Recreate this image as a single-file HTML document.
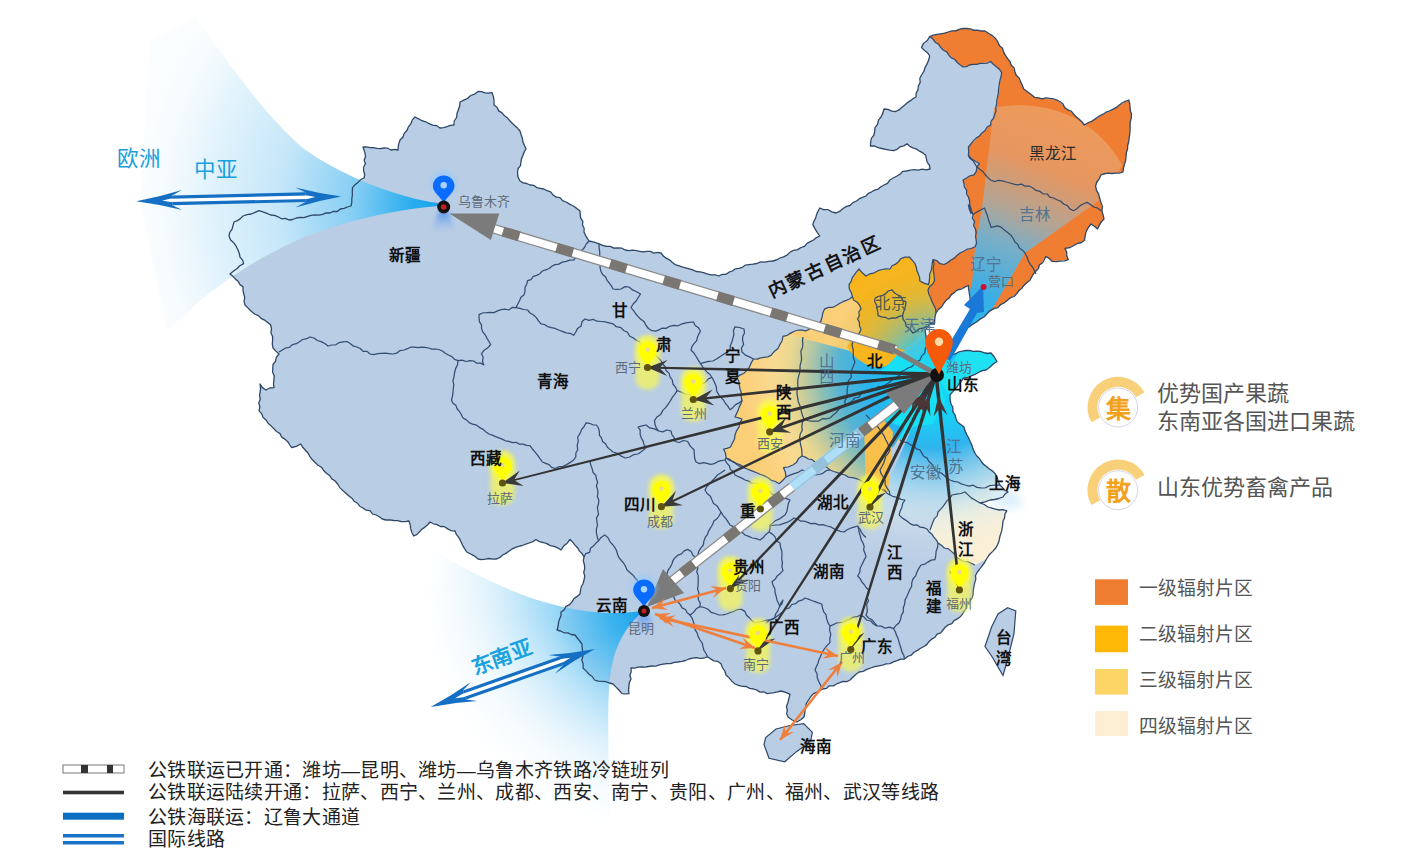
<!DOCTYPE html>
<html lang="zh-CN"><head><meta charset="utf-8">
<style>
html,body{margin:0;padding:0;background:#fff;width:1404px;height:868px;overflow:hidden;font-family:"Liberation Sans",sans-serif;}
svg{position:absolute;left:0;top:0;display:block}
</style></head><body>
<svg width="1404" height="868" viewBox="0 0 1404 868">
<defs>
<linearGradient id="gEU" x1="443" y1="207" x2="150" y2="180" gradientUnits="userSpaceOnUse">
 <stop offset="0" stop-color="#18a6ea" stop-opacity="1"/>
 <stop offset="0.35" stop-color="#3cb4ee" stop-opacity="0.85"/>
 <stop offset="0.7" stop-color="#9ad6f6" stop-opacity="0.5"/>
 <stop offset="1" stop-color="#ffffff" stop-opacity="0"/>
</linearGradient>
<linearGradient id="gSEA" x1="644" y1="612" x2="500" y2="760" gradientUnits="userSpaceOnUse">
 <stop offset="0" stop-color="#18a6ea" stop-opacity="1"/>
 <stop offset="0.4" stop-color="#4bbcef" stop-opacity="0.8"/>
 <stop offset="0.8" stop-color="#bfe6fa" stop-opacity="0.4"/>
 <stop offset="1" stop-color="#ffffff" stop-opacity="0"/>
</linearGradient>
<radialGradient id="gHubW" cx="936" cy="374" r="200" gradientUnits="userSpaceOnUse">
 <stop offset="0" stop-color="#00e0ff" stop-opacity="1"/>
 <stop offset="0.35" stop-color="#1fb4f0" stop-opacity="0.95"/>
 <stop offset="0.7" stop-color="#4ab6e6" stop-opacity="0.45"/>
 <stop offset="1" stop-color="#8fd0ee" stop-opacity="0"/>
</radialGradient>
<radialGradient id="gHubS" cx="936" cy="374" r="230" gradientUnits="userSpaceOnUse">
 <stop offset="0" stop-color="#10c8f8" stop-opacity="1"/>
 <stop offset="0.4" stop-color="#30b0ec" stop-opacity="0.85"/>
 <stop offset="0.75" stop-color="#9fd6f0" stop-opacity="0.45"/>
 <stop offset="1" stop-color="#e8f4fa" stop-opacity="0"/>
</radialGradient>
<radialGradient id="gHubNE" cx="936" cy="374" r="300" gradientUnits="userSpaceOnUse">
 <stop offset="0" stop-color="#12b0f4" stop-opacity="1"/>
 <stop offset="0.35" stop-color="#3aaee6" stop-opacity="0.9"/>
 <stop offset="0.6" stop-color="#8fb0c0" stop-opacity="0.55"/>
 <stop offset="0.85" stop-color="#f0c0a0" stop-opacity="0.3"/>
 <stop offset="1" stop-color="#ffffff" stop-opacity="0.15"/>
</radialGradient>
<linearGradient id="gHebei" x1="885" y1="262" x2="930" y2="335" gradientUnits="userSpaceOnUse">
 <stop offset="0" stop-color="#f6b01a"/>
 <stop offset="0.45" stop-color="#d8bc50"/>
 <stop offset="0.75" stop-color="#a8c090"/>
 <stop offset="1" stop-color="#62c4d0"/>
</linearGradient>
<linearGradient id="gYel" x1="760" y1="400" x2="930" y2="390" gradientUnits="userSpaceOnUse">
 <stop offset="0" stop-color="#fbd27a"/>
 <stop offset="0.5" stop-color="#d6d48e"/>
 <stop offset="1" stop-color="#66ccd8"/>
</linearGradient>
<radialGradient id="gPinGlow" cx="0.5" cy="0.5" r="0.5">
 <stop offset="0" stop-color="#ffff40" stop-opacity="0.9"/>
 <stop offset="0.6" stop-color="#ffff60" stop-opacity="0.5"/>
 <stop offset="1" stop-color="#ffff80" stop-opacity="0"/>
</radialGradient>
<linearGradient id="gRefl" x1="0" y1="0" x2="0" y2="1">
 <stop offset="0" stop-color="#2a7cf0" stop-opacity="0.9"/>
 <stop offset="1" stop-color="#8ab8f0" stop-opacity="0"/>
</linearGradient>
<filter id="blur2" x="-50%" y="-50%" width="200%" height="200%"><feGaussianBlur stdDeviation="2"/></filter>
<filter id="blur4" x="-50%" y="-50%" width="200%" height="200%"><feGaussianBlur stdDeviation="4"/></filter>
<filter id="blur8" x="-50%" y="-50%" width="200%" height="200%"><feGaussianBlur stdDeviation="8"/></filter>
<clipPath id="clipChina"><path d="M363.0,147.0 L398.0,150.0 L400.0,140.0 L415.0,117.0 L440.0,128.0 L454.0,125.0 L460.0,102.0 L478.0,91.5 L492.0,92.7 L494.0,105.0 L510.0,121.0 L520.0,131.0 L526.0,149.0 L517.5,172.0 L520.0,181.0 L547.0,190.6 L566.0,202.0 L580.0,211.0 L584.0,232.0 L589.0,241.0 L599.0,243.8 L629.0,250.7 L661.0,253.0 L675.0,264.6 L707.0,273.8 L719.0,276.0 L749.0,264.6 L776.5,260.0 L801.0,247.5 L819.7,236.0 L812.8,224.4 L819.7,208.0 L836.0,213.0 L856.6,201.0 L884.0,185.0 L902.7,171.4 L930.0,169.0 L925.7,155.3 L907.0,143.8 L893.5,150.7 L870.4,146.0 L875.0,127.6 L884.0,109.0 L895.8,111.5 L916.0,97.0 L921.5,75.0 L929.7,56.0 L921.5,47.6 L929.7,36.6 L940.8,33.8 L963.0,28.3 L985.0,31.0 L996.0,39.0 L1010.0,61.5 L1023.7,89.0 L1034.8,97.4 L1057.0,100.0 L1073.5,114.0 L1084.5,125.0 L1109.4,111.0 L1128.8,100.0 L1131.5,114.0 L1128.8,141.6 L1123.0,172.0 L1101.0,174.8 L1095.6,186.0 L1101.0,202.4 L1104.0,219.0 L1097.4,229.0 L1091.0,224.0 L1086.0,232.0 L1084.5,240.3 L1074.8,245.0 L1065.0,248.4 L1068.4,259.7 L1052.0,261.3 L1045.8,256.5 L1036.0,271.0 L1029.7,280.6 L1016.8,293.5 L1004.0,303.0 L987.7,313.0 L979.7,319.4 L968.4,327.4 L972.0,310.0 L968.4,285.5 L957.0,290.0 L944.0,303.0 L936.0,313.0 L934.5,324.0 L930.5,323.0 L925.0,331.0 L928.0,345.0 L947.0,356.0 L966.0,350.5 L991.0,353.0 L997.0,361.5 L986.0,370.0 L963.6,378.0 L950.0,394.7 L951.0,404.0 L957.4,422.0 L964.0,427.0 L970.0,441.0 L976.8,456.0 L986.5,466.5 L995.3,474.0 L1000.0,485.0 L1008.0,492.0 L1003.0,497.0 L990.0,500.0 L980.0,503.0 L988.0,507.0 L1006.8,510.8 L1003.0,521.0 L1001.7,531.0 L999.0,541.0 L992.8,551.4 L986.5,559.0 L975.5,575.5 L972.0,598.0 L962.6,614.0 L943.0,630.0 L924.0,646.5 L904.5,659.0 L878.7,665.8 L859.0,672.0 L850.0,680.0 L836.5,684.0 L822.7,689.0 L813.5,693.6 L806.5,703.0 L804.0,717.0 L797.0,722.0 L788.0,717.0 L786.4,706.4 L790.0,694.4 L781.0,691.0 L767.0,693.6 L753.5,689.0 L735.0,684.0 L726.0,675.0 L721.0,663.7 L707.5,656.8 L689.0,659.0 L670.6,663.7 L652.0,666.0 L631.0,668.0 L629.0,693.6 L622.0,693.6 L613.0,684.0 L594.6,680.0 L583.0,668.0 L582.0,644.0 L575.0,635.0 L557.0,630.0 L561.0,612.0 L580.0,594.0 L584.0,580.0 L584.0,557.0 L570.0,539.5 L561.0,550.0 L536.0,539.5 L515.0,547.6 L496.7,559.0 L478.0,559.0 L466.7,552.0 L455.0,531.0 L430.0,522.0 L413.7,536.0 L409.0,521.0 L386.0,520.0 L363.0,508.0 L349.0,496.0 L337.6,484.0 L323.7,470.5 L310.0,456.7 L300.7,444.0 L291.5,447.5 L280.0,433.6 L266.0,420.0 L259.0,410.6 L260.0,384.0 L266.0,390.0 L274.0,387.6 L273.0,364.5 L279.0,354.0 L273.0,348.0 L270.7,325.0 L254.6,314.0 L245.0,305.0 L243.0,286.7 L230.0,274.0 L243.6,263.6 L238.0,250.0 L229.0,236.0 L234.0,222.0 L243.0,216.0 L259.0,210.6 L270.7,215.0 L289.0,220.0 L330.0,213.0 L351.0,206.0 L352.5,187.6 L364.0,178.0 L365.0,153.0 Z"/></clipPath>
</defs>
<path d="M363.0,147.0 L398.0,150.0 L400.0,140.0 L415.0,117.0 L440.0,128.0 L454.0,125.0 L460.0,102.0 L478.0,91.5 L492.0,92.7 L494.0,105.0 L510.0,121.0 L520.0,131.0 L526.0,149.0 L517.5,172.0 L520.0,181.0 L547.0,190.6 L566.0,202.0 L580.0,211.0 L584.0,232.0 L589.0,241.0 L599.0,243.8 L629.0,250.7 L661.0,253.0 L675.0,264.6 L707.0,273.8 L719.0,276.0 L749.0,264.6 L776.5,260.0 L801.0,247.5 L819.7,236.0 L812.8,224.4 L819.7,208.0 L836.0,213.0 L856.6,201.0 L884.0,185.0 L902.7,171.4 L930.0,169.0 L925.7,155.3 L907.0,143.8 L893.5,150.7 L870.4,146.0 L875.0,127.6 L884.0,109.0 L895.8,111.5 L916.0,97.0 L921.5,75.0 L929.7,56.0 L921.5,47.6 L929.7,36.6 L940.8,33.8 L963.0,28.3 L985.0,31.0 L996.0,39.0 L1010.0,61.5 L1023.7,89.0 L1034.8,97.4 L1057.0,100.0 L1073.5,114.0 L1084.5,125.0 L1109.4,111.0 L1128.8,100.0 L1131.5,114.0 L1128.8,141.6 L1123.0,172.0 L1101.0,174.8 L1095.6,186.0 L1101.0,202.4 L1104.0,219.0 L1097.4,229.0 L1091.0,224.0 L1086.0,232.0 L1084.5,240.3 L1074.8,245.0 L1065.0,248.4 L1068.4,259.7 L1052.0,261.3 L1045.8,256.5 L1036.0,271.0 L1029.7,280.6 L1016.8,293.5 L1004.0,303.0 L987.7,313.0 L979.7,319.4 L968.4,327.4 L972.0,310.0 L968.4,285.5 L957.0,290.0 L944.0,303.0 L936.0,313.0 L934.5,324.0 L930.5,323.0 L925.0,331.0 L928.0,345.0 L947.0,356.0 L966.0,350.5 L991.0,353.0 L997.0,361.5 L986.0,370.0 L963.6,378.0 L950.0,394.7 L951.0,404.0 L957.4,422.0 L964.0,427.0 L970.0,441.0 L976.8,456.0 L986.5,466.5 L995.3,474.0 L1000.0,485.0 L1008.0,492.0 L1003.0,497.0 L990.0,500.0 L980.0,503.0 L988.0,507.0 L1006.8,510.8 L1003.0,521.0 L1001.7,531.0 L999.0,541.0 L992.8,551.4 L986.5,559.0 L975.5,575.5 L972.0,598.0 L962.6,614.0 L943.0,630.0 L924.0,646.5 L904.5,659.0 L878.7,665.8 L859.0,672.0 L850.0,680.0 L836.5,684.0 L822.7,689.0 L813.5,693.6 L806.5,703.0 L804.0,717.0 L797.0,722.0 L788.0,717.0 L786.4,706.4 L790.0,694.4 L781.0,691.0 L767.0,693.6 L753.5,689.0 L735.0,684.0 L726.0,675.0 L721.0,663.7 L707.5,656.8 L689.0,659.0 L670.6,663.7 L652.0,666.0 L631.0,668.0 L629.0,693.6 L622.0,693.6 L613.0,684.0 L594.6,680.0 L583.0,668.0 L582.0,644.0 L575.0,635.0 L557.0,630.0 L561.0,612.0 L580.0,594.0 L584.0,580.0 L584.0,557.0 L570.0,539.5 L561.0,550.0 L536.0,539.5 L515.0,547.6 L496.7,559.0 L478.0,559.0 L466.7,552.0 L455.0,531.0 L430.0,522.0 L413.7,536.0 L409.0,521.0 L386.0,520.0 L363.0,508.0 L349.0,496.0 L337.6,484.0 L323.7,470.5 L310.0,456.7 L300.7,444.0 L291.5,447.5 L280.0,433.6 L266.0,420.0 L259.0,410.6 L260.0,384.0 L266.0,390.0 L274.0,387.6 L273.0,364.5 L279.0,354.0 L273.0,348.0 L270.7,325.0 L254.6,314.0 L245.0,305.0 L243.0,286.7 L230.0,274.0 L243.6,263.6 L238.0,250.0 L229.0,236.0 L234.0,222.0 L243.0,216.0 L259.0,210.6 L270.7,215.0 L289.0,220.0 L330.0,213.0 L351.0,206.0 L352.5,187.6 L364.0,178.0 L365.0,153.0 Z" fill="#b9cde5"/>
<path d="M776.0,729.0 L790.0,725.5 L803.7,723.7 L812.4,732.4 L810.6,741.0 L803.0,747.0 L796.8,751.4 L784.7,761.8 L769.0,758.3 L764.0,744.5 L765.7,737.6 Z" fill="#b9cde5"/>
<path d="M1007.7,607.7 L1015.8,611.0 L1014.0,633.5 L1007.7,659.0 L1003.0,675.5 L991.6,656.0 L985.0,646.5 L991.6,627.0 L998.0,614.0 Z" fill="#b9cde5"/>
<g clip-path="url(#clipChina)">
<path d="M929.7,36.6 L940.8,47.6 L963.0,67.0 L990.6,61.5 L1001.6,72.5 L996.0,111.0 L990.6,125.0 L979.5,136.0 L968.4,147.0 L968.4,155.4 L979.5,163.7 L974.0,174.8 L963.0,180.0 L968.4,197.0 L971.0,213.5 L973.0,214.5 L976.5,243.5 L975.0,246.8 L960.0,253.0 L944.0,264.5 L933.0,259.7 L934.5,280.6 L928.0,290.0 L936.0,313.0 L1000.0,330.0 L1200.0,260.0 L1200.0,0.0 L930.0,0.0 Z" fill="#ef7e33"/>
<path d="M753.5,359.0 L771.0,355.4 L778.0,348.5 L783.0,336.4 L795.0,331.0 L809.0,329.5 L821.0,321.0 L824.7,308.8 L836.8,305.3 L852.4,296.7 L849.0,284.6 L859.0,269.0 L866.0,276.0 L878.0,270.7 L890.0,269.0 L900.8,258.6 L909.4,257.0 L916.3,267.3 L919.8,281.0 L928.4,284.6 L933.0,259.7 L934.5,280.6 L928.0,290.0 L936.0,313.0 L930.5,323.0 L925.0,331.0 L928.0,345.0 L947.0,356.0 L966.0,350.5 L991.0,353.0 L997.0,361.5 L986.0,370.0 L963.6,378.0 L950.0,394.7 L951.0,404.0 L940.0,415.0 L920.0,425.0 L900.0,440.0 L890.0,450.0 L880.0,470.0 L890.0,495.0 L875.0,485.0 L860.0,480.0 L845.0,475.0 L830.0,470.0 L815.0,462.0 L802.0,456.0 L792.7,465.0 L783.5,467.6 L786.0,476.8 L779.0,483.7 L760.5,474.5 L744.0,467.6 L726.0,458.0 L723.6,449.0 L730.5,447.0 L735.0,435.0 L742.0,419.0 L735.0,417.0 L742.0,400.5 L737.0,377.5 L749.0,368.0 Z" fill="#fbcf78"/>
<path d="M849.0,284.6 L859.0,269.0 L866.0,276.0 L878.0,270.7 L890.0,269.0 L900.8,258.6 L909.4,257.0 L916.3,267.3 L919.8,281.0 L928.4,284.6 L933.0,259.7 L934.5,280.6 L928.0,290.0 L936.0,313.0 L930.5,323.0 L925.0,331.0 L905.0,350.0 L899.0,353.7 L892.0,360.6 L878.0,367.5 L861.0,362.0 L847.0,346.8 L852.0,345.0 L861.0,329.5 L857.5,319.0 L861.0,308.8 L852.4,296.7 Z" fill="#f7b41c"/>
<path d="M928.0,345.0 L947.0,356.0 L966.0,350.5 L991.0,353.0 L997.0,361.5 L986.0,370.0 L963.6,378.0 L950.0,394.7 L951.0,404.0 L940.0,415.0 L920.0,425.0 L900.0,440.0 L880.0,430.0 L866.0,415.0 L885.0,385.0 L905.0,370.0 Z" fill="#1ee2f2"/>
<path d="M951.0,404.0 L957.4,422.0 L964.0,427.0 L970.0,441.0 L976.8,456.0 L986.5,466.5 L995.3,474.0 L1000.0,485.0 L1008.0,492.0 L1003.0,497.0 L990.0,500.0 L980.0,503.0 L988.0,507.0 L1006.8,510.8 L1003.0,521.0 L1001.7,531.0 L999.0,541.0 L992.8,551.4 L986.5,559.0 L975.0,565.0 L960.0,559.6 L954.5,554.0 L938.0,543.0 L930.0,530.0 L938.0,512.0 L952.0,495.0 L958.0,470.0 L950.0,440.0 L942.0,415.0 Z" fill="#fbefd4"/>
</g>
<radialGradient id="gEU2" cx="443" cy="206" r="300" gradientUnits="userSpaceOnUse">
 <stop offset="0" stop-color="#12a0ea"/>
 <stop offset="0.1" stop-color="#28acee"/>
 <stop offset="0.3" stop-color="#86cef4"/>
 <stop offset="0.55" stop-color="#c6e7f9"/>
 <stop offset="0.8" stop-color="#e4f4fc"/>
 <stop offset="1" stop-color="#f6fbfe" stop-opacity="0.5"/>
</radialGradient>
<radialGradient id="gSEA2" cx="644" cy="611" r="230" gradientUnits="userSpaceOnUse">
 <stop offset="0" stop-color="#12a0ea"/>
 <stop offset="0.15" stop-color="#30b0ee"/>
 <stop offset="0.4" stop-color="#8ed2f5"/>
 <stop offset="0.65" stop-color="#cdebfa"/>
 <stop offset="0.85" stop-color="#eaf7fd" stop-opacity="0.8"/>
 <stop offset="1" stop-color="#ffffff" stop-opacity="0"/>
</radialGradient>
<path d="M438,203 C400,198 345,178 304,149 C270,120 240,80 196,17 L150,40 L140,200 L167,332 C200,298 240,266 300,239 C345,220 400,209 438,206 Z" fill="url(#gEU2)"/>
<linearGradient id="gSEAm" x1="614" y1="560" x2="420" y2="760" gradientUnits="userSpaceOnUse"><stop offset="0" stop-color="#fff"/><stop offset="0.3" stop-color="#fff" stop-opacity="0.85"/><stop offset="0.5" stop-color="#fff" stop-opacity="0.55"/><stop offset="0.7" stop-color="#fff" stop-opacity="0.25"/><stop offset="1" stop-color="#fff" stop-opacity="0"/></linearGradient>
<mask id="mSEA" maskUnits="userSpaceOnUse" x="0" y="0" width="1404" height="868"><rect x="0" y="0" width="1404" height="868" fill="url(#gSEAm)"/></mask>
<path d="M640,611 C600,618 545,607 497,584 C470,572 440,555 410,535 L380,640 L440,760 L612,850 C608,760 606,690 612,665 C616,645 625,628 640,614 Z" fill="url(#gSEA2)" mask="url(#mSEA)"/>
<radialGradient id="gW" cx="936" cy="374" r="195" gradientUnits="userSpaceOnUse">
 <stop offset="0" stop-color="#0ae4fa"/>
 <stop offset="0.15" stop-color="#14ccf6"/>
 <stop offset="0.35" stop-color="#28b4f0"/>
 <stop offset="0.5" stop-color="#40b0e0" stop-opacity="0.88"/>
 <stop offset="0.6" stop-color="#58b8d4" stop-opacity="0.65"/>
 <stop offset="0.68" stop-color="#90c8c0" stop-opacity="0.5"/>
 <stop offset="0.76" stop-color="#d8e4b0" stop-opacity="0.42"/>
 <stop offset="0.85" stop-color="#f8f0c4" stop-opacity="0.32"/>
 <stop offset="0.93" stop-color="#fbf0c8" stop-opacity="0.12"/>
 <stop offset="1" stop-color="#ffffff" stop-opacity="0"/>
</radialGradient>
<radialGradient id="gNW" cx="936" cy="374" r="115" gradientUnits="userSpaceOnUse">
 <stop offset="0" stop-color="#10e0f8"/>
 <stop offset="0.3" stop-color="#30c8ec" stop-opacity="0.9"/>
 <stop offset="0.45" stop-color="#60c0c8" stop-opacity="0.65"/>
 <stop offset="0.7" stop-color="#a8c078" stop-opacity="0.3"/>
 <stop offset="0.9" stop-color="#d0b840" stop-opacity="0.08"/>
 <stop offset="1" stop-color="#ffffff" stop-opacity="0"/>
</radialGradient>
<radialGradient id="gS" cx="936" cy="374" r="240" gradientUnits="userSpaceOnUse">
 <stop offset="0" stop-color="#10dcfa"/>
 <stop offset="0.18" stop-color="#18d0f6"/>
 <stop offset="0.31" stop-color="#30b4ee"/>
 <stop offset="0.39" stop-color="#70c4ec" stop-opacity="0.95"/>
 <stop offset="0.49" stop-color="#a8d8f0" stop-opacity="0.85"/>
 <stop offset="0.6" stop-color="#d8ecf0" stop-opacity="0.5"/>
 <stop offset="0.7" stop-color="#e8f0f0" stop-opacity="0.15"/>
 <stop offset="0.8" stop-color="#ffffff" stop-opacity="0"/>
</radialGradient>
<linearGradient id="gNE" x1="946" y1="370" x2="1050" y2="110" gradientUnits="userSpaceOnUse">
 <stop offset="0" stop-color="#14c8f8"/>
 <stop offset="0.3" stop-color="#3aaee6"/>
 <stop offset="0.5" stop-color="#7aaec6"/>
 <stop offset="0.62" stop-color="#b4a494"/>
 <stop offset="0.8" stop-color="#e69660"/>
 <stop offset="1" stop-color="#ee9a5c"/>
</linearGradient>
<g clip-path="url(#clipChina)">
<clipPath id="clipYel"><path d="M753.5,359.0 L771.0,355.4 L778.0,348.5 L783.0,336.4 L795.0,331.0 L809.0,329.5 L821.0,321.0 L824.7,308.8 L836.8,305.3 L852.4,296.7 L849.0,284.6 L859.0,269.0 L866.0,276.0 L878.0,270.7 L890.0,269.0 L900.8,258.6 L909.4,257.0 L916.3,267.3 L919.8,281.0 L928.4,284.6 L933.0,259.7 L934.5,280.6 L928.0,290.0 L936.0,313.0 L930.5,323.0 L925.0,331.0 L928.0,345.0 L947.0,356.0 L966.0,350.5 L991.0,353.0 L997.0,361.5 L986.0,370.0 L963.6,378.0 L950.0,394.7 L951.0,404.0 L940.0,415.0 L920.0,425.0 L900.0,440.0 L890.0,450.0 L880.0,470.0 L890.0,495.0 L875.0,485.0 L860.0,480.0 L845.0,475.0 L830.0,470.0 L815.0,462.0 L802.0,456.0 L792.7,465.0 L783.5,467.6 L786.0,476.8 L779.0,483.7 L760.5,474.5 L744.0,467.6 L726.0,458.0 L723.6,449.0 L730.5,447.0 L735.0,435.0 L742.0,419.0 L735.0,417.0 L742.0,400.5 L737.0,377.5 L749.0,368.0 Z"/><path d="M849.0,284.6 L859.0,269.0 L866.0,276.0 L878.0,270.7 L890.0,269.0 L900.8,258.6 L909.4,257.0 L916.3,267.3 L919.8,281.0 L928.4,284.6 L933.0,259.7 L934.5,280.6 L928.0,290.0 L936.0,313.0 L930.5,323.0 L925.0,331.0 L905.0,350.0 L899.0,353.7 L892.0,360.6 L878.0,367.5 L861.0,362.0 L847.0,346.8 L852.0,345.0 L861.0,329.5 L857.5,319.0 L861.0,308.8 L852.4,296.7 Z"/><path d="M928.0,345.0 L947.0,356.0 L966.0,350.5 L991.0,353.0 L997.0,361.5 L986.0,370.0 L963.6,378.0 L950.0,394.7 L951.0,404.0 L940.0,415.0 L920.0,425.0 L900.0,440.0 L880.0,430.0 L866.0,415.0 L885.0,385.0 L905.0,370.0 Z"/></clipPath>
<g clip-path="url(#clipYel)">
<path d="M936,374 L838.5,542.9 A195,195 0 0 1 747.6,323.5 Z" fill="url(#gW)"/>
<path d="M936,374 L824.9,344.2 A115,115 0 0 1 940.0,259.1 Z" fill="url(#gNW)"/>
</g>
<path d="M936,374 L1063.2,577.5 A240,240 0 0 1 838.4,593.3 Z" fill="url(#gS)"/>
<path d="M946,370 L960,322 L972,284 L975,248 L982,208 L994,108 C1040,98 1095,115 1122,165 L1104,197 L1025,253 L1008,282 L994,306 Z" fill="url(#gNE)"/>
<path d="M864,425 L884,420 L893,432 L890,470 L888,492 L866,492 Z" fill="#f8bf4a"/>
<path d="M847,346.8 L852,338 L880,345 L905,350 L899,353.7 C895,362 885,368 878,367.5 C868,367 855,360 847,346.8 Z" fill="#f7b51e"/>
<path d="M936,374 L880,372 L889,364 L898,354 L921,360 Z" fill="#18e0f4"/>
<path d="M936,374 L868,421 L881,419 L905,428 L933,424 L945,400 Z" fill="#18e0f4"/>
</g>
<path d="M990,484 C1008,484 1024,492 1022,506 C1015,512 1005,510 992,505 Z" fill="#d8eefa" opacity="0.8" filter="url(#blur4)"/>
<path d="M279.0,352.0 L282.3,350.0 L285.6,348.0 L289.5,347.3 L292.4,344.6 L296.3,343.7 L299.5,341.8 L302.7,339.5 L306.6,338.7 L310.0,337.0 L314.0,338.0 L317.3,340.5 L321.2,341.6 L324.8,343.5 L328.0,346.0 L331.8,345.0 L335.8,344.8 L339.2,342.6 L343.1,341.9 L347.0,341.5 L350.2,343.5 L353.1,345.9 L356.8,347.0 L360.2,348.5 L363.0,351.3 L367.1,351.4 L370.0,354.0 L373.8,354.7 L377.7,353.6 L381.5,353.3 L385.3,353.2 L389.2,353.6 L393.0,354.0 L396.8,353.2 L400.0,350.6 L403.9,350.0 L407.5,348.7 L411.0,347.0 L414.5,347.1 L418.0,347.7 L421.6,347.1 L425.1,347.4 L428.6,348.0 L432.0,349.2 L435.5,349.0 L439.0,349.5 L442.4,351.0 L445.2,353.3 L448.5,355.0 L451.9,356.6 L454.5,359.3 L458.0,360.6" fill="none" stroke="#2c476c" stroke-width="1.25" stroke-linejoin="round" opacity="0.95"/>
<path d="M458.0,360.6 L462.0,360.1 L466.0,361.5 L470.0,360.6 L473.7,361.0 L476.8,363.2 L480.6,363.1 L483.8,365.0 L482.5,361.3 L483.2,357.3 L481.5,353.7 L484.2,350.2 L487.8,347.8 L490.7,344.5 L488.8,341.3 L486.9,338.1 L485.2,334.8 L482.8,331.9 L481.5,328.4 L481.5,324.8 L479.4,321.6 L479.1,318.1 L479.0,314.6 L482.5,313.0 L486.3,312.7 L490.1,312.3 L493.9,312.6 L497.5,310.9 L501.1,309.6 L504.8,309.2 L508.8,310.0 L512.1,307.4 L516.0,307.6" fill="none" stroke="#2c476c" stroke-width="1.25" stroke-linejoin="round" opacity="0.95"/>
<path d="M516.0,307.6 L517.7,304.3 L519.4,301.0 L520.8,297.6 L523.8,295.1 L525.0,291.5 L524.9,287.7 L526.7,284.3 L527.6,280.7 L531.0,279.6 L533.3,276.4 L536.8,275.4 L539.9,273.7 L542.4,271.0 L545.7,269.8 L549.1,268.5 L551.9,266.3 L555.0,264.6 L558.8,264.1 L562.3,262.1 L566.1,261.3 L569.8,260.2 L573.7,260.0 L576.3,256.8 L579.5,254.2 L581.5,250.6 L584.3,247.7 L586.3,244.0 L589.0,241.0" fill="none" stroke="#2c476c" stroke-width="1.25" stroke-linejoin="round" opacity="0.95"/>
<path d="M599.0,243.8 L599.1,247.8 L599.7,251.7 L599.7,255.7 L600.7,259.6 L599.8,263.6 L600.1,267.6 L601.0,271.5 L602.7,274.6 L605.6,276.9 L607.0,280.3 L609.3,283.0 L611.4,285.8 L613.0,289.0 L617.1,289.4 L621.1,289.0 L624.9,286.6 L629.0,287.0 L632.5,289.9 L636.6,291.8 L640.5,294.0 L638.3,297.5 L636.1,301.0 L633.1,304.0 L631.0,307.6 L633.4,310.4 L635.5,313.5 L637.9,316.4 L640.5,319.0 L643.9,321.4 L645.9,325.2 L648.4,328.5 L652.0,330.7 L655.7,331.1 L659.0,329.8 L662.4,328.1 L666.0,328.4 L669.7,326.3 L673.8,325.4 L678.2,325.8 L682.0,323.8 L685.8,322.8 L689.6,322.3 L693.5,322.0 L695.2,325.5 L698.5,327.8 L700.5,331.0 L698.8,334.1 L697.4,337.4 L696.5,340.9 L694.0,343.6 L692.0,346.5 L691.0,350.0 L693.9,353.0 L696.2,356.5 L698.3,360.1 L700.5,363.6" fill="none" stroke="#2c476c" stroke-width="1.25" stroke-linejoin="round" opacity="0.95"/>
<path d="M700.5,363.6 L704.5,362.4 L708.6,361.4 L712.8,361.0 L716.6,359.0 L719.9,356.7 L723.3,354.5 L726.7,352.4 L730.0,350.0 L730.2,346.0 L731.7,342.3 L732.8,338.5 L733.9,334.7 L733.4,330.5 L735.0,326.8 L739.6,327.5 L744.0,329.0 L744.5,332.9 L742.7,336.6 L742.6,340.5 L743.6,344.4 L741.4,348.1 L742.0,352.0 L745.4,355.1 L749.5,356.9 L753.5,359.0 L751.0,363.4 L749.0,368.0 L746.4,370.9 L743.6,373.5 L740.0,375.1 L737.0,377.5 L738.7,381.1 L739.3,385.0 L740.0,388.9 L741.3,392.6 L741.2,396.7 L742.0,400.5 L739.1,402.9 L735.6,404.6 L733.0,407.4 L730.0,409.7 L728.0,406.4 L725.5,403.5 L723.6,400.2 L721.0,397.3 L718.5,394.4 L716.6,391.0 L716.4,387.3 L715.2,383.9 L713.8,380.7 L712.0,377.5 L710.0,374.5 L707.1,372.2 L704.7,369.5 L702.5,366.6 L700.5,363.6" fill="none" stroke="#2c476c" stroke-width="1.25" stroke-linejoin="round" opacity="0.95"/>
<path d="M516.0,307.6 L519.9,308.4 L523.7,309.5 L527.6,310.0 L530.0,313.0 L533.5,315.0 L536.3,317.6 L538.5,320.9 L541.0,323.8 L544.6,324.5 L547.8,326.7 L551.4,327.6 L555.0,328.4 L558.6,330.0 L562.4,331.3 L566.0,332.8 L570.1,333.3 L573.6,335.3 L575.8,332.0 L577.6,328.4 L581.1,326.0 L582.0,321.8 L585.0,319.0 L588.9,320.3 L593.1,319.4 L596.9,321.2 L601.0,321.5 L605.1,321.9 L609.0,322.8 L613.0,323.8 L616.3,326.7 L620.8,327.6 L624.0,330.7 L627.5,332.3 L629.5,336.0 L633.0,337.7 L636.0,340.0 L639.3,341.6 L640.9,345.3 L643.7,347.4 L647.0,349.0 L650.3,350.7 L652.7,353.5 L655.9,355.4 L658.4,358.0 L661.0,360.6 L662.6,364.0 L665.2,366.8 L666.1,370.5 L669.0,373.1 L670.0,376.8 L672.3,380.0 L672.9,384.0 L675.4,387.1 L677.0,390.6 L674.9,394.1 L672.3,397.4 L670.3,401.0 L668.0,404.4 L665.6,407.6 L662.8,410.4 L660.8,414.4 L656.9,417.0 L654.5,420.7 L655.0,424.5 L656.3,427.9 L658.6,431.0" fill="none" stroke="#2c476c" stroke-width="1.25" stroke-linejoin="round" opacity="0.95"/>
<path d="M458.0,360.6 L457.5,364.8 L455.6,368.6 L454.6,372.7 L454.0,376.8 L452.9,380.6 L453.8,384.6 L453.3,388.5 L453.0,392.3 L452.5,396.2 L451.5,400.0 L453.0,403.3 L456.0,405.6 L457.2,409.0 L459.6,411.7 L461.4,414.8 L463.0,418.0 L466.4,419.9 L469.2,422.6 L472.7,424.2 L476.6,425.2 L479.7,427.6 L483.1,429.4 L486.0,432.0 L489.0,434.0 L492.3,435.2 L495.6,436.6 L498.9,437.9 L502.2,439.1 L505.4,440.8 L509.0,441.3 L512.4,442.6 L516.1,442.3 L519.4,444.1 L523.0,444.1 L526.4,445.4 L530.0,445.6 L532.4,449.0 L535.1,452.1 L537.7,455.3 L540.0,458.6 L542.4,462.0 L545.7,463.3 L549.1,464.6 L551.6,467.4 L555.0,468.5" fill="none" stroke="#2c476c" stroke-width="1.25" stroke-linejoin="round" opacity="0.95"/>
<path d="M555.0,468.5 L558.8,466.7 L563.0,466.4 L566.7,464.6 L570.2,462.4 L573.6,460.0 L575.8,456.9 L575.9,453.0 L577.7,449.8 L577.2,445.5 L578.2,441.3 L577.7,437.0 L580.0,433.6 L581.5,429.7 L584.2,426.5 L586.0,422.8 L589.5,423.3 L592.8,424.8 L596.4,425.0 L598.4,428.0 L599.4,431.4 L599.4,435.2 L601.6,438.1 L602.6,441.5 L605.5,443.8 L607.4,447.2 L610.2,449.6 L613.0,452.0 L617.4,453.4 L621.2,456.1 L625.4,458.0 L629.7,457.0 L633.6,454.7 L638.0,454.0 L642.2,451.1 L646.0,447.7 L644.0,444.5 L643.0,440.9 L641.2,437.7 L640.1,434.1 L640.2,430.1 L638.0,427.0 L642.0,425.8 L646.0,425.0 L649.8,427.9 L654.5,428.9 L658.6,431.0" fill="none" stroke="#2c476c" stroke-width="1.25" stroke-linejoin="round" opacity="0.95"/>
<path d="M658.6,431.0 L662.7,431.9 L666.9,430.0 L671.0,431.0 L671.9,434.7 L674.3,437.8 L675.0,441.5 L679.2,442.5 L683.5,440.5 L687.7,441.5 L690.2,446.1 L694.0,449.8 L694.3,453.9 L694.6,458.0 L696.0,462.0 L699.5,463.6 L703.3,462.6 L706.9,463.4 L710.5,464.3 L714.2,463.6 L717.6,461.7 L721.2,460.6 L725.0,460.0 L726.0,458.0" fill="none" stroke="#2c476c" stroke-width="1.25" stroke-linejoin="round" opacity="0.95"/>
<path d="M742.0,400.5 L740.9,403.9 L739.2,407.1 L738.0,410.5 L736.5,413.7 L735.0,417.0 L738.5,417.8 L742.0,419.0 L740.0,422.9 L738.9,427.2 L736.5,430.9 L735.0,435.0 L734.4,439.3 L732.4,443.1 L730.5,447.0 L727.1,448.3 L723.6,449.0 L725.5,453.3 L726.0,458.0 L729.4,460.3 L733.4,461.5 L736.5,464.3 L740.0,466.5 L744.0,467.6" fill="none" stroke="#2c476c" stroke-width="1.25" stroke-linejoin="round" opacity="0.95"/>
<path d="M677.0,390.6 L681.3,392.1 L685.5,394.1 L690.0,395.0 L693.2,393.2 L694.7,389.7 L697.9,387.9 L700.0,385.0 L703.2,383.5 L706.2,381.5 L708.6,378.7 L712.0,377.5" fill="none" stroke="#2c476c" stroke-width="1.25" stroke-linejoin="round" opacity="0.95"/>
<path d="M726.0,458.0 L729.9,459.4 L733.0,462.1 L737.0,463.5 L740.7,465.1 L744.0,467.6 L747.3,469.0 L750.6,470.3 L753.9,471.7 L757.2,473.0 L760.5,474.5 L764.4,475.9 L768.1,477.7 L771.4,480.4 L775.5,481.5 L779.0,483.7 L782.7,480.5 L786.0,476.8 L785.3,472.0 L783.5,467.6 L788.3,467.0 L792.7,465.0 L796.4,462.6 L798.5,458.6 L802.0,456.0" fill="none" stroke="#2c476c" stroke-width="1.25" stroke-linejoin="round" opacity="0.95"/>
<path d="M802.0,456.0 L801.9,452.3 L801.6,448.6 L800.6,445.0 L800.1,441.3 L799.6,437.6 L800.3,433.8 L802.3,430.4 L801.8,426.3 L802.4,422.6 L804.0,419.0 L802.5,415.6 L801.5,412.0 L800.7,408.4 L799.6,404.8 L798.2,401.4 L797.7,397.7 L797.0,394.0 L797.1,390.4 L798.0,386.9 L797.7,383.2 L797.9,379.6 L798.6,376.1 L799.7,372.6 L800.0,369.0 L800.1,365.4 L801.1,361.9 L801.6,358.4 L801.2,354.8 L800.9,351.1 L802.5,347.7 L802.8,344.2 L802.5,340.5 L803.0,337.0" fill="none" stroke="#2c476c" stroke-width="1.25" stroke-linejoin="round" opacity="0.95"/>
<path d="M753.5,359.0 L757.2,359.1 L760.6,357.9 L764.1,357.4 L767.7,356.9 L771.0,355.4 L774.2,351.6 L778.0,348.5 L779.9,344.6 L782.1,340.7 L783.0,336.4 L787.3,335.3 L791.1,332.9 L795.0,331.0 L798.4,330.0 L802.0,330.1 L805.6,330.9 L809.0,329.5 L811.5,326.7 L814.8,325.0 L818.5,323.9 L821.0,321.0 L822.1,316.9 L822.9,312.7 L824.7,308.8 L828.6,307.3 L833.0,307.3 L836.8,305.3 L839.8,303.3 L843.0,301.7 L846.3,300.4 L849.6,299.0 L852.4,296.7 L851.3,292.7 L849.3,288.9 L849.0,284.6 L851.1,281.6 L852.2,277.9 L854.3,274.8 L856.5,271.8 L859.0,269.0 L862.2,272.8 L866.0,276.0 L869.8,273.8 L874.2,272.8 L878.0,270.7 L881.9,269.5 L885.9,268.8 L890.0,269.0 L892.0,265.7 L895.7,264.1 L898.6,261.7 L900.8,258.6 L905.0,257.2 L909.4,257.0 L912.1,260.1 L914.8,263.3 L916.3,267.3 L916.9,270.8 L918.4,274.1 L919.6,277.4 L919.8,281.0 L924.0,283.1 L928.4,284.6 L929.3,281.1 L929.6,277.5 L929.7,273.8 L931.3,270.4 L931.8,266.8 L932.2,263.2 L933.0,259.7 L936.9,260.7 L940.0,263.7 L944.0,264.5 L947.6,262.8 L950.6,260.2 L954.2,258.4 L956.9,255.4 L960.0,253.0 L963.6,251.2 L967.2,249.2 L971.3,248.5 L975.0,246.8 L976.5,243.5 L976.1,239.9 L975.5,236.3 L976.2,232.5 L975.4,228.9 L973.5,225.5 L974.6,221.7 L972.4,218.2 L973.0,214.5 L971.7,211.1 L969.6,208.2 L968.4,204.8 L969.3,209.3 L971.0,213.5 L971.2,209.2 L969.8,205.2 L969.6,201.0 L968.4,197.0 L966.5,193.9 L966.6,190.1 L964.4,187.0 L964.0,183.4 L963.0,180.0 L966.5,178.0 L970.0,175.8 L974.0,174.8 L976.3,171.3 L976.9,167.0 L979.5,163.7 L975.5,161.3 L971.6,158.8 L968.4,155.4 L968.7,151.2 L968.4,147.0 L970.9,144.0 L973.3,140.9 L976.1,138.1 L979.5,136.0 L981.9,132.9 L985.1,130.5 L987.1,127.1 L990.6,125.0 L991.1,121.2 L993.6,118.1 L994.7,114.5 L996.0,111.0 L995.8,107.4 L996.6,103.9 L996.8,100.4 L997.6,96.9 L998.3,93.5 L998.5,89.9 L999.0,86.4 L999.5,82.9 L1000.2,79.4 L1001.2,76.0 L1001.6,72.5 L999.4,69.2 L996.3,66.8 L993.3,64.3 L990.6,61.5 L987.3,63.2 L983.8,63.5 L980.2,63.3 L976.8,64.4 L973.2,64.3 L969.7,64.8 L966.5,66.7 L963.0,67.0 L960.0,64.8 L957.2,62.5 L954.9,59.5 L951.4,57.9 L948.8,55.2 L946.8,51.9 L943.4,50.2 L940.8,47.6 L938.7,44.2 L935.1,42.2 L932.9,38.9 L929.7,36.6" fill="none" stroke="#2c476c" stroke-width="1.25" stroke-linejoin="round" opacity="0.95"/>
<path d="M933.0,259.7 L934.0,263.8 L933.2,268.1 L933.6,272.3 L934.2,276.4 L934.5,280.6 L932.8,284.1 L929.7,286.5 L928.0,290.0 L928.8,294.0 L930.6,297.7 L932.0,301.5 L933.8,305.2 L935.6,308.8 L936.0,313.0" fill="none" stroke="#2c476c" stroke-width="1.25" stroke-linejoin="round" opacity="0.95"/>
<path d="M852.4,296.7 L853.8,300.3 L857.3,302.3 L859.6,305.2 L861.0,308.8 L858.9,311.9 L859.3,315.8 L857.5,319.0 L859.4,322.3 L859.5,326.1 L861.0,329.5 L859.5,332.8 L856.7,335.3 L856.1,339.1 L853.0,341.4 L852.0,345.0 L853.1,349.2 L853.3,353.5 L853.4,357.9 L855.0,362.0 L853.5,365.7 L851.9,369.4 L851.1,373.4 L851.2,377.6 L848.4,380.9 L848.0,385.0 L847.2,389.0 L847.2,393.1 L846.8,397.1 L844.9,400.9 L845.0,405.0" fill="none" stroke="#2c476c" stroke-width="1.25" stroke-linejoin="round" opacity="0.95"/>
<path d="M804.0,419.0 L807.5,420.5 L811.2,421.2 L815.0,421.0 L818.9,421.0 L822.3,418.7 L826.3,418.9 L830.0,418.0 L832.9,415.3 L836.0,412.8 L838.5,409.6 L841.6,407.1 L845.0,405.0" fill="none" stroke="#2c476c" stroke-width="1.25" stroke-linejoin="round" opacity="0.95"/>
<path d="M845.0,405.0 L848.6,403.2 L852.0,401.2 L854.7,398.0 L858.9,397.2 L861.3,393.7 L865.0,392.0 L868.4,391.2 L871.4,388.9 L875.2,389.0 L878.1,386.7 L881.8,386.6 L885.0,385.0 L888.1,383.2 L891.0,381.1 L893.5,378.5 L896.9,377.0 L899.9,375.1 L901.7,371.5 L905.0,370.0 L908.0,368.0 L911.5,366.8 L914.3,364.4 L916.9,361.9 L920.0,360.0 L921.7,356.1 L924.8,352.9 L925.3,348.4 L928.0,345.0" fill="none" stroke="#2c476c" stroke-width="1.25" stroke-linejoin="round" opacity="0.95"/>
<path d="M874.8,298.4 L878.1,296.5 L882.1,295.7 L885.4,293.9 L888.3,291.0 L892.0,289.8 L894.3,292.8 L897.4,294.8 L901.0,296.4 L902.6,300.2 L906.0,301.9 L905.6,305.5 L904.6,308.9 L903.5,312.3 L902.5,315.7 L899.0,316.4 L895.8,318.1 L892.1,317.8 L888.7,319.0 L885.3,317.3 L881.6,316.8 L878.0,315.7 L877.9,312.1 L877.0,308.7 L876.7,305.2 L874.8,302.0 L874.8,298.4" fill="none" stroke="#2c476c" stroke-width="1.25" stroke-linejoin="round" opacity="0.95"/>
<path d="M902.5,315.7 L903.2,319.3 L905.4,322.4 L906.0,326.0 L909.9,329.1 L912.9,333.0 L916.4,331.4 L919.4,328.7 L923.5,328.2 L926.7,326.0" fill="none" stroke="#2c476c" stroke-width="1.25" stroke-linejoin="round" opacity="0.95"/>
<path d="M590.0,462.0 L591.0,465.5 L592.2,468.9 L593.0,472.4 L595.7,475.2 L596.4,478.8 L597.6,482.3 L596.4,486.0 L597.6,489.4 L597.9,493.0 L597.3,496.6 L598.8,500.1 L598.5,503.7 L597.4,507.2 L597.9,510.8 L598.5,514.4 L596.5,517.9 L596.9,521.5 L597.5,525.1 L596.4,528.6 L596.4,532.8 L597.3,537.0 L598.5,541.0 L595.7,543.3 L593.4,546.1 L590.5,548.3 L589.6,552.3 L585.7,553.7 L584.0,557.0" fill="none" stroke="#2c476c" stroke-width="1.25" stroke-linejoin="round" opacity="0.95"/>
<path d="M598.5,541.0 L601.1,537.4 L604.7,534.9 L608.0,537.8 L610.1,541.8 L613.0,545.0 L615.1,547.9 L616.7,551.0 L617.6,554.5 L619.0,557.7 L621.3,560.5 L623.7,563.2 L625.5,566.3 L626.9,569.7 L629.6,572.2 L632.8,574.9 L635.3,578.2 L638.1,581.2 L640.0,585.0 L643.9,585.8 L647.8,586.7 L650.9,589.7 L655.0,590.0 L657.3,586.4 L661.0,583.9 L662.8,580.0 L663.9,576.5 L667.0,574.0 L668.0,570.4 L670.1,567.4 L671.8,564.2 L672.9,560.7 L675.0,557.7 L677.9,555.2 L681.5,553.9 L684.1,550.9 L687.7,549.4 L691.2,551.5 L692.9,555.3 L696.0,557.7 L697.9,554.5 L698.9,550.8 L701.0,547.8 L703.4,544.8 L703.9,540.9 L705.3,537.4 L707.5,534.4 L708.7,530.8 L710.7,527.7 L712.6,524.5 L713.9,520.9 L717.2,518.5 L719.4,515.5 L721.0,512.0" fill="none" stroke="#2c476c" stroke-width="1.25" stroke-linejoin="round" opacity="0.95"/>
<path d="M725.0,460.0 L726.9,463.1 L729.3,465.8 L730.4,469.4 L733.4,471.8 L735.0,475.0 L738.3,476.7 L741.8,478.1 L745.0,480.0 L748.8,481.1 L752.2,483.4 L756.5,483.0 L760.0,485.0 L763.1,486.9 L766.3,488.5 L769.2,490.7 L771.4,493.8 L775.0,495.0 L778.9,495.9 L782.4,497.7 L786.3,498.6 L790.0,500.0 L788.3,503.6 L787.6,507.5 L786.9,511.5 L785.0,515.0 L782.1,517.1 L779.1,519.2 L775.7,520.5 L772.9,522.9 L770.0,525.0 L770.1,528.6 L769.0,532.0 L765.8,534.4 L763.3,537.6 L760.0,540.0 L756.3,538.7 L752.3,538.0 L748.7,536.4 L745.0,535.0 L742.3,532.5 L739.0,531.0 L736.3,528.6 L733.3,526.6 L730.0,525.0 L727.9,521.7 L725.7,518.3 L723.1,515.4 L721.0,512.0 L718.9,508.9 L716.9,505.7 L713.6,503.5 L712.0,500.0 L710.4,496.2 L707.1,493.5 L705.0,490.0 L706.9,486.5 L709.5,483.6 L712.3,480.8 L715.0,478.0 L717.8,474.7 L721.5,472.5 L725.0,470.0" fill="none" stroke="#2c476c" stroke-width="1.25" stroke-linejoin="round" opacity="0.95"/>
<path d="M696.0,557.7 L696.2,561.2 L697.0,564.7 L697.8,568.1 L696.8,571.7 L698.0,575.1 L698.2,578.6 L698.2,582.1 L698.0,585.7 L697.6,589.2 L698.9,592.6 L698.2,596.2 L698.4,599.7 L700.2,603.1 L700.0,606.6 L704.1,607.5 L707.9,609.3 L711.1,612.3 L715.1,613.5 L719.0,615.0 L723.0,614.9 L726.7,614.0 L730.3,612.5 L734.0,611.3 L737.5,609.5 L741.5,609.4 L744.9,611.4 L746.5,615.3 L749.4,617.8 L751.9,620.7 L755.0,623.0 L759.0,622.1 L763.0,621.2 L766.9,620.1 L771.0,619.5 L774.7,617.7 L775.7,613.8 L778.0,610.6 L779.3,606.9 L781.9,603.8 L783.0,600.0 L780.8,603.0 L780.0,606.6 L778.4,603.2 L776.9,599.7 L776.1,596.1 L775.1,592.5 L774.8,588.6 L773.0,585.3 L772.0,581.7 L775.1,579.3 L777.2,575.9 L780.3,573.4 L783.0,570.6 L781.9,566.7 L782.4,562.7 L781.7,558.8 L782.0,554.8 L781.7,550.8 L780.5,546.9 L780.0,543.0 L776.6,540.9 L775.1,536.9 L772.4,534.1 L769.0,532.0" fill="none" stroke="#2c476c" stroke-width="1.25" stroke-linejoin="round" opacity="0.95"/>
<path d="M662.8,580.0 L665.7,582.8 L667.5,586.3 L669.1,589.9 L670.6,593.5 L673.6,596.3 L675.0,600.0 L678.0,602.0 L680.4,604.6 L682.1,607.9 L685.5,609.5 L687.2,612.8 L690.0,615.0 L693.5,612.4 L696.2,608.8 L700.0,606.6" fill="none" stroke="#2c476c" stroke-width="1.25" stroke-linejoin="round" opacity="0.95"/>
<path d="M690.0,615.0 L692.2,618.3 L693.4,621.9 L694.7,625.6 L695.0,629.6 L697.1,632.9 L698.2,636.6 L700.0,640.0 L702.2,643.0 L703.0,646.7 L703.9,650.4 L706.0,653.5 L707.5,656.8" fill="none" stroke="#2c476c" stroke-width="1.25" stroke-linejoin="round" opacity="0.95"/>
<path d="M786.0,476.8 L790.1,475.2 L794.1,473.6 L798.2,472.3 L802.0,470.0 L806.5,471.3 L810.6,473.6 L815.0,475.0 L819.0,474.5 L822.8,473.3 L826.1,470.7 L830.0,470.0 L833.7,471.5 L837.4,472.7 L841.2,473.8 L845.0,475.0 L848.5,477.1 L852.5,477.6 L856.3,478.6 L860.0,480.0 L863.5,482.1 L867.4,482.8 L871.4,483.4 L875.0,485.0 L878.2,486.7 L881.0,489.0 L884.5,490.3 L886.9,493.2 L890.0,495.0 L893.6,496.7 L897.5,497.4 L901.0,499.4 L905.0,500.0 L902.7,503.4 L901.9,507.5 L900.2,511.1 L899.0,515.0" fill="none" stroke="#2c476c" stroke-width="1.25" stroke-linejoin="round" opacity="0.95"/>
<path d="M769.0,526.0 L772.5,525.5 L776.0,525.0 L779.6,524.9 L783.0,523.6 L787.0,522.4 L790.7,520.5 L794.0,518.0 L797.4,518.9 L800.4,521.1 L804.0,521.2 L807.4,522.1 L810.6,523.6 L814.8,523.4 L818.8,524.8 L823.0,524.7 L827.0,526.0 L830.6,526.8 L833.7,528.6 L837.0,530.1 L840.4,531.3 L844.0,532.0 L847.1,529.7 L850.5,528.2 L854.1,527.1 L857.7,526.0 L859.7,528.9 L861.3,532.1 L863.4,535.0 L866.0,537.5" fill="none" stroke="#2c476c" stroke-width="1.25" stroke-linejoin="round" opacity="0.95"/>
<path d="M857.7,526.0 L858.7,529.4 L859.3,532.9 L860.4,536.3 L861.2,539.8 L863.0,543.0 L864.2,546.4 L863.6,550.1 L865.1,553.4 L866.0,556.8 L863.9,560.4 L862.2,564.3 L860.2,568.0 L859.8,572.3 L857.7,576.0 L860.1,578.6 L861.8,581.9 L864.2,584.5 L866.1,587.5 L868.7,590.0 L868.6,593.6 L867.0,597.0 L868.5,600.8 L866.7,604.2 L867.0,607.9 L867.3,611.5 L866.0,615.0 L868.5,618.0 L872.1,619.9 L874.6,622.9 L877.0,626.0" fill="none" stroke="#2c476c" stroke-width="1.25" stroke-linejoin="round" opacity="0.95"/>
<path d="M766.0,623.0 L769.1,620.4 L773.2,619.1 L776.4,616.7 L779.7,614.3 L782.8,611.8 L785.8,609.0 L789.4,607.8 L791.7,604.5 L795.5,603.7 L798.3,601.2 L802.0,600.2 L805.0,598.0 L808.4,599.1 L811.6,600.5 L815.0,601.7 L818.3,602.9 L821.7,604.0 L822.5,607.9 L823.6,611.7 L826.1,614.9 L826.7,618.9 L827.9,622.6 L830.0,626.0 L833.3,624.7 L836.4,623.0 L840.0,622.6 L843.4,622.0 L846.6,620.4 L850.1,619.1 L853.3,617.1 L857.1,616.7 L860.4,615.0 L863.9,616.9 L866.6,620.0 L870.7,621.0 L873.6,624.0 L877.0,626.0" fill="none" stroke="#2c476c" stroke-width="1.25" stroke-linejoin="round" opacity="0.95"/>
<path d="M830.0,626.0 L829.6,630.1 L830.8,634.3 L829.8,638.5 L830.0,642.6 L826.7,645.9 L823.9,649.5 L821.7,653.6 L820.3,656.9 L818.8,660.1 L817.9,663.5 L816.3,666.7 L815.0,670.0 L817.1,673.7 L817.3,678.0 L818.8,681.8 L820.8,685.5 L821.7,689.6" fill="none" stroke="#2c476c" stroke-width="1.25" stroke-linejoin="round" opacity="0.95"/>
<path d="M899.0,515.0 L902.5,518.1 L906.4,520.6 L910.0,523.6 L913.3,525.1 L917.1,524.9 L920.1,527.2 L923.7,527.7 L927.0,529.0 L929.0,531.9 L931.9,534.2 L933.8,537.2 L936.2,539.9 L938.0,543.0 L937.6,547.2 L936.1,551.2 L935.8,555.5 L935.0,559.6 L931.2,560.1 L927.9,562.1 L924.7,564.2 L921.0,565.0 L918.8,568.4 L917.0,572.0 L915.6,575.9 L913.0,579.0 L911.8,582.6 L911.6,586.5 L909.7,589.8 L908.2,593.3 L906.7,596.7 L905.0,600.1 L904.7,604.0 L903.3,607.7 L903.3,611.9 L901.3,615.4 L900.6,619.3 L899.0,623.0 L895.9,625.5 L893.6,628.7 L889.6,627.2 L885.2,628.2 L881.2,626.1 L877.0,626.0" fill="none" stroke="#2c476c" stroke-width="1.25" stroke-linejoin="round" opacity="0.95"/>
<path d="M893.6,628.7 L895.4,631.7 L896.4,635.1 L898.0,638.3 L898.9,641.7 L900.0,645.0 L901.0,648.5 L902.0,652.1 L903.8,655.3 L904.5,659.0" fill="none" stroke="#2c476c" stroke-width="1.25" stroke-linejoin="round" opacity="0.95"/>
<path d="M938.0,543.0 L941.3,545.1 L944.2,548.0 L948.4,548.8 L951.4,551.4 L954.5,554.0 L956.6,557.4 L960.0,559.6 L963.6,561.3 L967.8,561.6 L971.4,563.4 L975.0,565.0" fill="none" stroke="#2c476c" stroke-width="1.25" stroke-linejoin="round" opacity="0.95"/>
<path d="M930.0,530.0 L931.4,526.3 L932.7,522.6 L934.2,518.9 L937.2,515.9 L938.0,512.0 L940.5,509.3 L943.0,506.6 L945.1,503.6 L947.2,500.5 L950.0,498.1 L952.0,495.0 L956.4,494.1 L960.8,493.5 L965.0,492.0 L968.1,494.9 L971.2,497.9 L975.0,500.0 L980.0,503.0" fill="none" stroke="#2c476c" stroke-width="1.25" stroke-linejoin="round" opacity="0.95"/>
<path d="M900.0,440.0 L903.2,441.9 L907.1,442.5 L910.2,444.6 L913.6,446.2 L916.5,448.8 L920.0,450.0 L921.9,453.1 L923.7,456.2 L927.1,458.1 L928.7,461.3 L931.5,463.7 L933.3,466.8 L935.0,470.0 L938.0,472.0 L941.5,473.2 L944.3,475.5 L946.8,478.2 L950.0,480.0 L953.7,481.3 L957.7,482.0 L961.2,483.9 L965.0,485.0 L968.9,486.2 L973.1,485.2 L976.9,487.4 L980.9,487.8 L985.0,488.0" fill="none" stroke="#2c476c" stroke-width="1.25" stroke-linejoin="round" opacity="0.95"/>
<path d="M985.0,488.0 L989.7,485.6 L995.0,485.0 L1000.0,485.0" fill="none" stroke="#2c476c" stroke-width="1.25" stroke-linejoin="round" opacity="0.95"/>
<path d="M866.0,415.0 L868.9,417.9 L871.5,421.1 L873.9,424.5 L877.7,426.6 L880.0,430.0 L882.2,433.1 L884.2,436.2 L885.7,439.7 L887.5,442.9 L888.9,446.4 L890.0,450.0 L888.3,453.3 L885.8,456.2 L884.7,459.8 L883.6,463.4 L881.8,466.8 L880.0,470.0 L881.1,473.7 L883.2,477.0 L885.1,480.4 L885.1,484.5 L886.9,487.9 L889.3,491.1 L890.0,495.0" fill="none" stroke="#2c476c" stroke-width="1.25" stroke-linejoin="round" opacity="0.95"/>
<path d="M802.0,456.0 L805.4,457.1 L808.5,459.0 L812.1,459.7 L815.0,462.0 L818.9,463.7 L822.9,465.2 L826.7,467.1 L830.0,470.0" fill="none" stroke="#2c476c" stroke-width="1.25" stroke-linejoin="round" opacity="0.95"/>
<path d="M968.4,155.4 L970.0,158.6 L973.0,160.7 L974.9,163.7 L976.7,166.7 L979.5,169.0 L982.7,171.4 L985.0,174.5 L987.7,177.4 L990.6,180.0 L994.3,181.5 L998.5,180.3 L1002.4,180.9 L1006.2,182.0 L1010.0,183.0 L1013.7,184.2 L1017.5,184.9 L1021.5,184.1 L1025.1,186.2 L1029.0,186.0 L1032.6,187.8 L1035.9,190.4 L1040.0,191.4 L1043.0,193.8 L1047.2,194.0 L1049.8,197.2 L1053.6,198.0 L1057.0,199.7 L1060.7,201.3 L1063.6,204.0 L1067.4,205.6 L1069.9,208.9 L1073.5,210.7 L1076.9,208.7 L1079.8,205.9 L1083.3,204.0 L1087.0,202.4 L1090.5,204.5 L1093.7,207.0 L1097.7,208.2 L1101.0,210.7" fill="none" stroke="#2c476c" stroke-width="1.25" stroke-linejoin="round" opacity="0.95"/>
<path d="M973.0,214.5 L976.7,212.1 L980.6,210.0 L984.5,208.0 L985.9,211.9 L987.4,215.7 L988.4,219.6 L989.9,223.5 L991.0,227.4 L997.4,225.8 L1001.1,227.1 L1003.9,229.8 L1007.0,232.0 L1010.4,234.7 L1013.0,238.2 L1015.0,242.0 L1017.8,244.4 L1019.3,248.1 L1022.5,250.2 L1025.0,253.0 L1026.9,256.7 L1028.3,260.7 L1030.3,264.4 L1033.0,267.7 L1036.0,274.0" fill="none" stroke="#2c476c" stroke-width="1.25" stroke-linejoin="round" opacity="0.95"/>
<path d="M363.0,147.0 L366.5,146.8 L370.0,147.7 L373.5,147.7 L377.0,148.4 L380.5,148.7 L384.1,148.0 L387.6,148.2 L390.9,150.0 L394.5,149.3 L398.0,150.0 L398.5,144.9 L400.0,140.0 L402.9,137.2 L404.2,133.4 L406.9,130.5 L408.5,126.8 L410.9,123.7 L412.3,119.9 L415.0,117.0 L418.5,118.8 L421.9,120.7 L425.7,121.8 L429.1,123.7 L432.7,125.1 L436.7,125.7 L440.0,128.0 L443.6,127.7 L447.0,126.7 L450.4,125.4 L454.0,125.0 L454.2,121.0 L456.6,117.5 L457.0,113.5 L458.4,109.8 L459.7,106.0 L460.0,102.0 L463.8,100.2 L467.6,98.5 L470.7,95.5 L474.7,94.1 L478.0,91.5 L481.5,91.7 L484.9,92.9 L488.4,93.1 L492.0,92.7 L493.4,96.7 L494.0,100.8 L494.0,105.0 L497.0,107.3 L498.7,110.9 L502.1,112.9 L504.5,115.8 L507.6,118.1 L510.0,121.0 L512.5,123.5 L515.1,125.9 L517.7,128.3 L520.0,131.0 L521.1,134.6 L522.3,138.2 L522.9,142.0 L524.5,145.5 L526.0,149.0 L524.1,152.0 L523.0,155.3 L521.5,158.6 L520.9,162.0 L520.5,165.6 L518.1,168.5 L517.5,172.0 L517.9,176.7 L520.0,181.0 L523.1,182.9 L526.7,183.5 L530.0,185.0 L533.7,185.3 L536.7,187.6 L540.2,188.3 L543.8,189.0 L547.0,190.6 L550.6,191.8 L553.0,194.9 L556.0,197.1 L560.0,197.6 L562.6,200.6 L566.0,202.0 L569.6,204.1 L573.3,206.0 L576.7,208.4 L580.0,211.0 L580.2,214.6 L580.7,218.1 L582.8,221.3 L582.5,225.0 L584.1,228.3 L584.0,232.0 L586.2,236.7 L589.0,241.0 L594.1,242.1 L599.0,243.8 L602.6,245.3 L606.3,246.4 L610.2,246.4 L613.8,248.1 L617.8,247.8 L621.7,248.2 L625.2,250.0 L629.0,250.7 L632.6,250.1 L636.2,250.7 L639.7,251.3 L643.2,251.9 L646.8,251.4 L650.4,251.4 L653.8,253.1 L657.5,252.4 L661.0,253.0 L663.3,256.0 L666.1,258.2 L669.5,259.8 L672.2,262.2 L675.0,264.6 L678.5,265.7 L682.0,266.9 L685.6,267.8 L689.2,268.8 L692.7,269.9 L696.1,271.5 L699.9,271.8 L703.5,272.7 L707.0,273.8 L710.9,274.9 L715.1,274.8 L719.0,276.0 L722.2,274.4 L726.0,274.3 L729.0,272.2 L732.4,271.0 L735.4,268.8 L738.9,268.3 L742.4,267.3 L745.4,265.1 L749.0,264.6 L753.0,264.1 L756.9,263.5 L760.7,261.8 L764.8,262.2 L768.6,261.3 L772.6,261.0 L776.5,260.0 L779.9,258.0 L783.7,256.8 L787.2,255.0 L790.1,252.1 L793.6,250.4 L797.6,249.6 L801.0,247.5 L804.6,246.3 L807.0,243.3 L810.3,241.7 L813.6,240.0 L816.4,237.6 L819.7,236.0 L817.2,232.3 L814.8,228.4 L812.8,224.4 L814.0,221.0 L815.7,217.9 L816.6,214.4 L818.1,211.2 L819.7,208.0 L823.6,209.7 L828.1,209.7 L831.9,211.9 L836.0,213.0 L839.6,211.4 L842.7,208.7 L846.0,206.6 L850.0,205.5 L852.9,202.6 L856.6,201.0 L859.4,198.7 L862.6,197.3 L865.9,196.0 L868.4,193.3 L871.7,191.8 L874.7,190.1 L878.2,189.1 L880.9,186.7 L884.0,185.0 L887.5,183.3 L889.9,180.0 L893.2,178.0 L896.6,176.2 L900.0,174.2 L902.7,171.4 L906.6,171.0 L910.5,170.2 L914.3,169.7 L918.3,170.1 L922.2,169.1 L926.1,169.9 L930.0,169.0 L929.5,165.4 L927.3,162.3 L926.4,158.8 L925.7,155.3 L922.9,152.9 L919.6,151.2 L916.6,149.1 L913.1,147.9 L909.8,146.3 L907.0,143.8 L903.8,145.9 L900.0,146.8 L897.1,149.3 L893.5,150.7 L889.6,150.2 L885.8,149.3 L881.9,148.5 L878.1,147.7 L874.4,146.0 L870.4,146.0 L870.7,142.2 L871.4,138.4 L873.9,135.2 L874.7,131.4 L875.0,127.6 L877.6,124.3 L878.5,120.1 L881.1,116.8 L882.9,113.1 L884.0,109.0 L888.0,109.3 L891.8,111.1 L895.8,111.5 L899.0,109.9 L901.7,107.6 L904.5,105.3 L907.1,102.9 L910.1,100.9 L912.8,98.7 L916.0,97.0 L916.2,93.1 L918.0,89.7 L918.4,85.9 L920.2,82.5 L919.8,78.5 L921.5,75.0 L923.8,71.5 L925.1,67.5 L927.1,63.9 L928.7,60.1 L929.7,56.0 L927.5,52.7 L924.3,50.3 L921.5,47.6 L923.5,43.4 L927.3,40.5 L929.7,36.6 L933.3,35.1 L937.0,34.4 L940.8,33.8 L944.6,33.2 L948.2,32.0 L951.9,30.9 L955.8,30.9 L959.3,29.4 L963.0,28.3 L966.7,28.5 L970.4,28.8 L973.9,30.3 L977.7,30.1 L981.3,31.1 L985.0,31.0 L988.8,33.5 L992.7,35.9 L996.0,39.0 L997.9,42.2 L999.5,45.7 L1002.5,48.3 L1003.6,52.1 L1005.4,55.5 L1007.5,58.6 L1010.0,61.5 L1011.2,65.2 L1014.2,68.0 L1014.9,71.9 L1016.3,75.5 L1019.3,78.3 L1020.6,81.9 L1022.4,85.4 L1023.7,89.0 L1027.4,91.8 L1031.2,94.5 L1034.8,97.4 L1038.5,97.8 L1042.1,98.8 L1046.0,97.8 L1049.7,98.3 L1053.4,98.9 L1057.0,100.0 L1060.2,101.8 L1063.0,104.1 L1064.7,107.7 L1067.6,109.8 L1071.2,111.1 L1073.5,114.0 L1076.2,116.8 L1079.2,119.3 L1082.0,122.0 L1084.5,125.0 L1087.5,123.0 L1090.9,121.7 L1093.9,119.9 L1096.8,117.8 L1099.8,115.8 L1103.0,114.2 L1106.0,112.2 L1109.4,111.0 L1112.7,109.3 L1116.1,107.7 L1119.0,105.3 L1122.0,103.0 L1125.3,101.3 L1128.8,100.0 L1129.7,103.5 L1130.0,107.0 L1130.3,110.6 L1131.5,114.0 L1131.3,118.0 L1130.2,121.8 L1130.1,125.8 L1130.1,129.8 L1129.8,133.7 L1129.2,137.7 L1128.8,141.6 L1127.7,145.3 L1127.5,149.2 L1126.3,152.9 L1126.0,156.8 L1125.6,160.7 L1124.4,164.4 L1123.4,168.1 L1123.0,172.0 L1119.4,173.2 L1115.7,173.1 L1112.0,173.5 L1108.2,173.2 L1104.6,173.6 L1101.0,174.8 L1099.4,178.6 L1096.8,182.0 L1095.6,186.0 L1096.5,190.3 L1098.7,194.1 L1099.7,198.3 L1101.0,202.4 L1102.4,206.4 L1101.9,210.8 L1103.0,214.9 L1104.0,219.0 L1101.2,221.9 L1099.2,225.4 L1097.4,229.0 L1094.4,226.3 L1091.0,224.0 L1088.1,227.8 L1086.0,232.0 L1085.1,236.1 L1084.5,240.3 L1081.6,242.5 L1078.0,243.3 L1074.8,245.0 L1070.2,247.5 L1065.0,248.4 L1066.7,252.0 L1066.8,256.1 L1068.4,259.7 L1064.4,260.9 L1060.3,261.2 L1056.2,261.6 L1052.0,261.3 L1049.3,258.4 L1045.8,256.5 L1044.3,259.7 L1042.6,262.8 L1039.4,264.9 L1038.5,268.5 L1036.0,271.0 L1033.4,273.9 L1031.5,277.2 L1029.7,280.6 L1026.7,282.8 L1024.0,285.2 L1021.9,288.2 L1019.0,290.5 L1016.8,293.5 L1014.1,296.5 L1010.1,297.9 L1007.2,300.6 L1004.0,303.0 L1000.5,304.7 L997.9,307.6 L994.0,308.6 L990.6,310.3 L987.7,313.0 L984.2,316.8 L979.7,319.4 L976.1,322.3 L972.1,324.6 L968.4,327.4 L969.7,324.0 L969.4,320.3 L970.0,316.8 L970.8,313.4 L972.0,310.0 L971.7,306.5 L971.4,302.9 L970.3,299.5 L969.7,296.0 L969.2,292.5 L968.6,289.0 L968.4,285.5 L964.7,287.1 L961.1,289.2 L957.0,290.0 L954.4,292.6 L951.2,294.6 L949.3,297.9 L946.3,300.1 L944.0,303.0 L941.8,306.7 L938.4,309.5 L936.0,313.0 L935.0,316.6 L934.7,320.3 L934.5,324.0 L930.5,323.0 L927.7,327.0 L925.0,331.0 L925.8,334.5 L926.2,338.1 L926.6,341.6 L928.0,345.0 L931.5,346.3 L934.7,348.0 L937.3,350.9 L940.3,353.0 L943.8,354.2 L947.0,356.0 L950.8,354.8 L954.7,354.2 L958.2,352.2 L962.1,351.2 L966.0,350.5 L969.6,350.3 L973.1,351.4 L976.7,351.2 L980.3,351.4 L983.8,352.6 L987.3,353.5 L991.0,353.0 L994.3,357.0 L997.0,361.5 L993.1,364.0 L989.8,367.3 L986.0,370.0 L982.1,370.7 L978.5,372.5 L974.9,374.4 L971.2,375.8 L967.6,377.5 L963.6,378.0 L961.4,380.8 L959.2,383.7 L957.3,386.7 L954.7,389.3 L952.5,392.1 L950.0,394.7 L950.0,399.4 L951.0,404.0 L952.9,407.4 L952.7,411.5 L954.9,414.8 L956.0,418.5 L957.4,422.0 L960.7,424.5 L964.0,427.0 L964.9,430.7 L966.5,434.2 L968.4,437.5 L970.0,441.0 L971.7,444.7 L973.0,448.7 L974.5,452.5 L976.8,456.0 L979.4,458.5 L981.3,461.5 L983.5,464.4 L986.5,466.5 L989.5,469.0 L992.7,471.1 L995.3,474.0 L997.3,477.5 L998.1,481.5 L1000.0,485.0 L1002.5,487.6 L1004.8,490.3 L1008.0,492.0 L1005.0,494.0 L1003.0,497.0 L998.8,498.5 L994.5,499.5 L990.0,500.0 L985.1,501.9 L980.0,503.0 L984.3,504.5 L988.0,507.0 L991.7,508.1 L995.4,509.2 L999.1,510.0 L1003.1,509.6 L1006.8,510.8 L1004.9,514.0 L1004.6,517.7 L1003.0,521.0 L1002.5,526.0 L1001.7,531.0 L1000.0,535.9 L999.0,541.0 L997.6,544.8 L995.5,548.3 L992.8,551.4 L989.2,554.8 L986.5,559.0 L984.6,562.5 L982.3,565.7 L979.8,568.8 L977.4,572.0 L975.5,575.5 L975.8,579.4 L974.6,583.0 L973.9,586.8 L973.2,590.5 L973.1,594.3 L972.0,598.0 L970.0,601.1 L967.5,604.0 L966.5,607.7 L964.4,610.8 L962.6,614.0 L960.2,616.8 L957.3,618.9 L954.0,620.6 L951.8,623.7 L948.2,624.9 L945.3,627.1 L943.0,630.0 L940.8,632.9 L937.1,634.1 L935.0,637.2 L931.8,639.1 L929.1,641.4 L927.0,644.4 L924.0,646.5 L920.6,648.3 L917.4,650.4 L914.0,652.3 L911.2,655.2 L907.5,656.5 L904.5,659.0 L900.6,659.2 L897.0,660.6 L893.4,661.9 L889.9,663.6 L886.1,663.9 L882.5,665.1 L878.7,665.8 L874.6,666.7 L870.7,668.0 L866.8,669.4 L863.1,671.3 L859.0,672.0 L855.8,674.5 L852.8,677.2 L850.0,680.0 L846.8,681.6 L843.1,681.3 L839.8,682.7 L836.5,684.0 L833.3,685.9 L829.3,685.8 L826.4,688.4 L822.7,689.0 L818.2,691.6 L813.5,693.6 L810.8,696.5 L808.7,699.8 L806.5,703.0 L805.8,706.5 L805.0,710.0 L804.7,713.5 L804.0,717.0 L800.7,719.8 L797.0,722.0 L792.2,720.0 L788.0,717.0 L786.7,713.6 L787.3,709.9 L786.4,706.4 L788.0,702.5 L788.9,698.4 L790.0,694.4 L785.7,692.3 L781.0,691.0 L777.5,691.9 L774.1,692.7 L770.5,693.2 L767.0,693.6 L763.8,691.8 L760.0,692.1 L756.9,690.1 L753.5,689.0 L749.7,688.4 L746.2,686.5 L742.3,686.3 L738.6,685.3 L735.0,684.0 L731.9,681.1 L729.1,677.9 L726.0,675.0 L724.8,671.0 L722.4,667.6 L721.0,663.7 L717.9,661.4 L713.9,660.9 L710.7,658.9 L707.5,656.8 L703.9,658.0 L700.2,658.4 L696.3,657.6 L692.7,658.2 L689.0,659.0 L685.5,660.5 L681.8,661.4 L678.0,662.0 L674.2,662.3 L670.6,663.7 L666.8,663.6 L663.1,664.2 L659.4,664.9 L655.8,666.2 L652.0,666.0 L648.5,666.5 L645.1,667.2 L641.5,667.0 L638.0,667.2 L634.6,668.2 L631.0,668.0 L631.2,671.7 L629.9,675.3 L631.0,679.0 L629.3,682.6 L628.9,686.2 L628.5,689.9 L629.0,693.6 L625.5,693.8 L622.0,693.6 L619.1,690.3 L616.1,687.1 L613.0,684.0 L609.4,683.0 L605.8,681.6 L602.0,681.3 L598.2,681.2 L594.6,680.0 L592.2,676.5 L588.8,674.0 L586.0,670.9 L583.0,668.0 L583.2,664.0 L581.8,660.0 L583.0,656.0 L582.6,652.0 L582.2,648.0 L582.0,644.0 L579.7,641.0 L577.3,638.0 L575.0,635.0 L571.3,634.5 L567.8,632.9 L564.0,632.8 L560.6,631.0 L557.0,630.0 L558.1,626.5 L558.5,622.8 L559.5,619.2 L561.0,615.8 L561.0,612.0 L564.2,609.9 L566.0,606.4 L569.5,604.7 L572.0,601.9 L574.0,598.6 L577.1,596.4 L580.0,594.0 L580.5,590.4 L581.3,586.8 L583.1,583.5 L584.0,580.0 L584.8,576.2 L583.7,572.3 L584.7,568.5 L584.4,564.7 L583.3,560.8 L584.0,557.0 L582.2,553.7 L579.5,551.1 L577.6,547.8 L575.0,545.1 L572.7,542.1 L570.0,539.5 L567.2,543.2 L563.6,546.1 L561.0,550.0 L557.7,547.8 L554.1,546.4 L550.2,545.6 L546.9,543.6 L543.1,542.5 L539.3,541.6 L536.0,539.5 L532.8,541.6 L529.3,542.9 L525.7,544.1 L522.2,545.5 L518.5,546.3 L515.0,547.6 L511.8,549.2 L508.9,551.3 L505.9,553.4 L502.7,555.0 L499.9,557.4 L496.7,559.0 L493.0,559.1 L489.2,558.5 L485.5,559.2 L481.7,559.6 L478.0,559.0 L474.6,556.1 L470.7,554.0 L466.7,552.0 L464.5,548.6 L462.6,545.1 L460.9,541.5 L459.1,537.9 L456.5,534.7 L455.0,531.0 L451.1,530.6 L447.7,528.9 L444.5,526.7 L440.5,526.5 L437.1,524.6 L433.4,523.8 L430.0,522.0 L427.6,524.7 L425.0,527.1 L422.0,529.1 L419.5,531.8 L417.0,534.3 L413.7,536.0 L411.9,532.5 L410.8,528.7 L410.2,524.8 L409.0,521.0 L405.1,521.6 L401.3,521.5 L397.5,520.6 L393.7,520.5 L389.8,519.8 L386.0,520.0 L382.3,519.0 L379.3,516.7 L376.1,515.0 L372.5,513.9 L370.0,510.7 L366.1,510.2 L363.0,508.0 L359.7,506.2 L357.4,503.2 L354.2,501.3 L351.9,498.2 L349.0,496.0 L345.9,493.2 L342.8,490.5 L339.9,487.6 L337.6,484.0 L335.1,481.0 L331.8,478.9 L329.6,475.5 L326.4,473.2 L323.7,470.5 L321.5,467.2 L318.0,465.2 L315.2,462.5 L312.4,459.8 L310.0,456.7 L308.1,453.2 L305.5,450.2 L302.8,447.3 L300.7,444.0 L296.4,446.4 L291.5,447.5 L289.5,444.5 L287.6,441.4 L284.7,439.1 L281.6,436.9 L280.0,433.6 L276.6,431.5 L273.9,428.7 L271.2,425.9 L268.2,423.3 L266.0,420.0 L263.0,417.3 L261.6,413.6 L259.0,410.6 L259.9,406.8 L258.7,403.0 L260.3,399.2 L259.5,395.4 L260.3,391.6 L260.6,387.8 L260.0,384.0 L262.4,387.6 L266.0,390.0 L269.8,388.0 L274.0,387.6 L273.5,383.8 L273.9,379.9 L274.3,376.0 L272.6,372.2 L272.8,368.4 L273.0,364.5 L275.5,361.3 L276.4,357.2 L279.0,354.0 L275.9,351.1 L273.0,348.0 L272.3,344.2 L272.6,340.3 L272.6,336.4 L270.9,332.7 L271.5,328.8 L270.7,325.0 L267.7,322.5 L264.6,320.1 L261.1,318.3 L258.3,315.6 L254.6,314.0 L251.2,311.2 L248.1,308.1 L245.0,305.0 L244.1,301.4 L244.7,297.6 L243.8,294.0 L243.0,290.4 L243.0,286.7 L240.0,284.6 L238.1,281.3 L235.3,278.9 L232.9,276.3 L230.0,274.0 L233.3,271.2 L236.8,268.8 L239.8,265.7 L243.6,263.6 L242.6,260.1 L240.0,257.1 L239.3,253.4 L238.0,250.0 L236.1,246.2 L233.8,242.8 L230.6,239.9 L229.0,236.0 L229.8,232.3 L232.1,229.2 L233.0,225.6 L234.0,222.0 L237.4,220.6 L240.4,218.6 L243.0,216.0 L247.0,214.6 L251.2,214.0 L255.1,212.3 L259.0,210.6 L263.0,211.8 L266.9,213.3 L270.7,215.0 L274.6,215.3 L278.1,216.8 L281.5,218.8 L285.5,218.3 L289.0,220.0 L292.7,219.5 L296.3,218.0 L300.1,217.3 L304.0,217.7 L307.6,216.4 L311.2,215.4 L315.0,214.9 L318.9,215.2 L322.6,214.4 L326.1,212.8 L330.0,213.0 L333.3,211.4 L337.3,211.5 L340.3,209.0 L344.0,208.4 L347.5,207.0 L351.0,206.0 L351.8,202.4 L351.8,198.7 L352.4,195.0 L352.3,191.3 L352.5,187.6 L355.0,184.8 L357.9,182.4 L360.6,179.8 L364.0,178.0 L364.7,174.5 L363.6,170.8 L363.6,167.3 L365.4,163.7 L364.2,160.1 L365.6,156.6 L365.0,153.0 L363.0,147.0 Z" fill="none" stroke="#2f4868" stroke-width="1.3" stroke-linejoin="round"/>
<path d="M776.0,729.0 L790.0,725.5 L803.7,723.7 L812.4,732.4 L810.6,741.0 L803.0,747.0 L796.8,751.4 L784.7,761.8 L769.0,758.3 L764.0,744.5 L765.7,737.6 Z" fill="none" stroke="#2f4868" stroke-width="1.2"/>
<path d="M1007.7,607.7 L1015.8,611.0 L1014.0,633.5 L1007.7,659.0 L1003.0,675.5 L991.6,656.0 L985.0,646.5 L991.6,627.0 L998.0,614.0 Z" fill="none" stroke="#2f4868" stroke-width="1.2"/>
<rect x="635.5" y="335.5" width="24" height="54" rx="11" fill="#f6f65a" opacity="0.75" filter="url(#blur2)"/>
<ellipse cx="647.5" cy="351.5" rx="12" ry="15" fill="#ffff30" opacity="0.5" filter="url(#blur2)"/>
<rect x="681.3" y="367.5" width="24" height="54" rx="11" fill="#f6f65a" opacity="0.75" filter="url(#blur2)"/>
<ellipse cx="693.3" cy="383.5" rx="12" ry="15" fill="#ffff30" opacity="0.5" filter="url(#blur2)"/>
<rect x="490.5" y="451" width="24" height="54" rx="11" fill="#f6f65a" opacity="0.75" filter="url(#blur2)"/>
<ellipse cx="502.5" cy="467" rx="12" ry="15" fill="#ffff30" opacity="0.5" filter="url(#blur2)"/>
<rect x="649.4" y="474.7" width="24" height="54" rx="11" fill="#f6f65a" opacity="0.75" filter="url(#blur2)"/>
<ellipse cx="661.4" cy="490.7" rx="12" ry="15" fill="#ffff30" opacity="0.5" filter="url(#blur2)"/>
<rect x="757.7" y="399.8" width="24" height="54" rx="11" fill="#f6f65a" opacity="0.75" filter="url(#blur2)"/>
<ellipse cx="769.7" cy="415.8" rx="12" ry="15" fill="#ffff30" opacity="0.5" filter="url(#blur2)"/>
<rect x="718.4" y="556.6" width="24" height="54" rx="11" fill="#f6f65a" opacity="0.75" filter="url(#blur2)"/>
<ellipse cx="730.4" cy="572.6" rx="12" ry="15" fill="#ffff30" opacity="0.5" filter="url(#blur2)"/>
<rect x="746" y="618.9" width="24" height="54" rx="11" fill="#f6f65a" opacity="0.75" filter="url(#blur2)"/>
<ellipse cx="758" cy="634.9" rx="12" ry="15" fill="#ffff30" opacity="0.5" filter="url(#blur2)"/>
<rect x="838.8" y="617.5" width="24" height="54" rx="11" fill="#f6f65a" opacity="0.75" filter="url(#blur2)"/>
<ellipse cx="850.8" cy="633.5" rx="12" ry="15" fill="#ffff30" opacity="0.5" filter="url(#blur2)"/>
<rect x="858" y="475" width="24" height="54" rx="11" fill="#f6f65a" opacity="0.75" filter="url(#blur2)"/>
<ellipse cx="870" cy="491" rx="12" ry="15" fill="#ffff30" opacity="0.5" filter="url(#blur2)"/>
<rect x="947.4" y="558" width="24" height="54" rx="11" fill="#f6f65a" opacity="0.75" filter="url(#blur2)"/>
<ellipse cx="959.4" cy="574" rx="12" ry="15" fill="#ffff30" opacity="0.5" filter="url(#blur2)"/>
<rect x="748.5" y="477" width="24" height="54" rx="11" fill="#f6f65a" opacity="0.75" filter="url(#blur2)"/>
<ellipse cx="760.5" cy="493" rx="12" ry="15" fill="#ffff30" opacity="0.5" filter="url(#blur2)"/>
<path d="M936.0,372.2 L647.4,366.4 L647.4,368.6 L936.0,375.8 Z" fill="#333"/>
<path d="M647.4,367.5 L667.6,360.0 L659.4,367.8 L667.2,375.9 Z" fill="#3a3a3a"/>
<path d="M935.8,372.2 L693.5,398.4 L693.7,400.8 L936.2,375.8 Z" fill="#333"/>
<path d="M693.6,399.6 L712.6,389.5 L705.5,398.3 L714.3,405.5 Z" fill="#3a3a3a"/>
<path d="M935.6,372.3 L502.2,482.2 L502.6,483.8 L936.4,375.7 Z" fill="#333"/>
<path d="M502.4,483.0 L519.8,470.4 L514.0,480.1 L523.7,485.9 Z" fill="#3a3a3a"/>
<path d="M935.2,372.4 L660.9,505.8 L661.9,507.6 L936.8,375.6 Z" fill="#333"/>
<path d="M661.4,506.7 L675.9,490.8 L672.2,501.5 L682.9,505.2 Z" fill="#3a3a3a"/>
<path d="M935.4,372.3 L769.3,430.5 L770.1,433.1 L936.6,375.7 Z" fill="#333"/>
<path d="M769.7,431.8 L786.0,417.7 L781.0,427.9 L791.2,432.8 Z" fill="#3a3a3a"/>
<path d="M934.7,372.8 L729.6,587.9 L731.2,589.3 L937.3,375.2 Z" fill="#333"/>
<path d="M730.4,588.6 L738.5,568.6 L738.7,579.9 L750.0,579.7 Z" fill="#3a3a3a"/>
<path d="M934.5,373.0 L757.2,650.4 L758.8,651.4 L937.5,375.0 Z" fill="#333"/>
<path d="M758.0,650.9 L762.1,629.8 L764.5,640.8 L775.5,638.4 Z" fill="#3a3a3a"/>
<path d="M934.3,373.5 L849.8,649.2 L851.8,649.8 L937.7,374.5 Z" fill="#333"/>
<path d="M850.8,649.5 L849.1,628.0 L854.3,638.0 L864.4,632.8 Z" fill="#3a3a3a"/>
<path d="M934.4,373.2 L868.7,506.4 L871.3,507.6 L937.6,374.8 Z" fill="#333"/>
<path d="M870.0,507.0 L871.7,485.5 L875.3,496.3 L886.1,492.6 Z" fill="#3a3a3a"/>
<path d="M934.2,374.2 L958.2,590.1 L960.6,589.9 L937.8,373.8 Z" fill="#333"/>
<path d="M959.4,590.0 L949.3,571.0 L958.1,578.1 L965.2,569.3 Z" fill="#3a3a3a"/>
<path d="M920.8,389.9 L912.0,409.2 L912.5,398.6 L901.9,399.5 Z" fill="#4a3636"/>
<path d="M924.1,392.5 L919.2,413.1 L917.6,402.6 L907.4,405.5 Z" fill="#4a3636"/>
<path d="M929.5,395.0 L930.3,416.2 L926.0,406.5 L916.9,412.1 Z" fill="#4a3636"/>
<path d="M926.2,393.7 L923.6,414.7 L920.9,404.5 L911.1,408.5 Z" fill="#4a3636"/>
<path d="M938.4,395.9 L947.5,415.0 L939.7,407.8 L933.6,416.5 Z" fill="#4a3636"/>
<line x1="478" y1="224" x2="896" y2="350" stroke="#8c8c8c" stroke-width="10"/>
<line x1="478" y1="224" x2="896" y2="350" stroke="#ffffff" stroke-width="7.4"/>
<line x1="502.9" y1="231.5" x2="519.2" y2="236.4" stroke="#7a7672" stroke-width="10"/>
<line x1="556.5" y1="247.7" x2="572.8" y2="252.6" stroke="#7a7672" stroke-width="10"/>
<line x1="610.1" y1="263.8" x2="626.4" y2="268.7" stroke="#7a7672" stroke-width="10"/>
<line x1="663.7" y1="280.0" x2="680.0" y2="284.9" stroke="#7a7672" stroke-width="10"/>
<line x1="717.4" y1="296.2" x2="733.6" y2="301.1" stroke="#7a7672" stroke-width="10"/>
<line x1="771.0" y1="312.3" x2="787.3" y2="317.2" stroke="#7a7672" stroke-width="10"/>
<line x1="824.6" y1="328.5" x2="840.9" y2="333.4" stroke="#7a7672" stroke-width="10"/>
<line x1="878.2" y1="344.6" x2="894.5" y2="349.5" stroke="#7a7672" stroke-width="10"/>
<line x1="890" y1="348" x2="936" y2="374" stroke="#7d7d7d" stroke-width="5"/>
<path d="M449.4,213.4 L499.2,213.4 L490.9,239.9 Z" fill="#7b7b7b"/>
<line x1="667" y1="585" x2="900" y2="402" stroke="#8c8c8c" stroke-width="10"/>
<line x1="667" y1="585" x2="900" y2="402" stroke="#ffffff" stroke-width="7.4"/>
<line x1="681.9" y1="573.3" x2="693.7" y2="564.0" stroke="#7a7672" stroke-width="10"/>
<line x1="726.0" y1="538.7" x2="737.8" y2="529.4" stroke="#7a7672" stroke-width="10"/>
<line x1="770.0" y1="504.1" x2="781.8" y2="494.8" stroke="#7a7672" stroke-width="10"/>
<line x1="814.1" y1="469.5" x2="825.9" y2="460.2" stroke="#7a7672" stroke-width="10"/>
<line x1="858.1" y1="434.9" x2="869.9" y2="425.6" stroke="#7a7672" stroke-width="10"/>
<path d="M647,607 L663,569 L684,593 Z" fill="#7b7b7b"/>
<line x1="792" y1="487" x2="861" y2="432" stroke="#9cd6f6" stroke-width="11" opacity="0.8"/>
<path d="M936,374 L886,393 L904,414 Z" fill="#7b7b7b"/>
<path d="M942,356 L970,309 L964,305 L983,286 L984,312 L977,313 L950,361 Z" fill="#1a78d6"/>
<circle cx="983.6" cy="287" r="3" fill="#d01030"/>
<line x1="652" y1="608" x2="726" y2="588" stroke="#ef7f3c" stroke-width="2.6"/><path d="M726.0,588.0 L713.1,597.7 L717.3,590.3 L710.0,586.1 Z" fill="#ef7f3c"/><path d="M652.0,608.0 L664.9,598.3 L660.7,605.7 L668.0,609.9 Z" fill="#ef7f3c"/>
<line x1="655" y1="614" x2="755" y2="648" stroke="#ef7f3c" stroke-width="2.6"/><path d="M755.0,648.0 L738.9,648.9 L746.5,645.1 L742.7,637.5 Z" fill="#ef7f3c"/><path d="M655.0,614.0 L671.1,613.1 L663.5,616.9 L667.3,624.5 Z" fill="#ef7f3c"/>
<line x1="660" y1="618" x2="838" y2="656" stroke="#ef7f3c" stroke-width="2.6"/><path d="M838.0,656.0 L822.1,658.7 L829.2,654.1 L824.6,647.0 Z" fill="#ef7f3c"/><path d="M660.0,618.0 L675.9,615.3 L668.8,619.9 L673.4,627.0 Z" fill="#ef7f3c"/>
<line x1="780" y1="740" x2="842" y2="662" stroke="#ef7f3c" stroke-width="2.6"/><path d="M842.0,662.0 L837.4,677.5 L836.4,669.0 L828.0,670.0 Z" fill="#ef7f3c"/><path d="M780.0,740.0 L784.6,724.5 L785.6,733.0 L794.0,732.0 Z" fill="#ef7f3c"/>
<path d="M647.5,366.5 C645.5,361.5 638.5,356.5 638.5,350.5 A9,9 0 1 1 656.5,350.5 C656.5,356.5 649.5,361.5 647.5,366.5 Z" fill="#ffff00"/><circle cx="647.5" cy="349.5" r="2.2" fill="#e8d890"/><circle cx="647.5" cy="367.5" r="3.6" fill="#5e5410"/>
<path d="M693.3,398.5 C691.3,393.5 684.3,388.5 684.3,382.5 A9,9 0 1 1 702.3,382.5 C702.3,388.5 695.3,393.5 693.3,398.5 Z" fill="#ffff00"/><circle cx="693.3" cy="381.5" r="2.2" fill="#e8d890"/><circle cx="693.3" cy="399.5" r="3.6" fill="#5e5410"/>
<path d="M502.5,482 C500.5,477 493.5,472 493.5,466 A9,9 0 1 1 511.5,466 C511.5,472 504.5,477 502.5,482 Z" fill="#ffff00"/><circle cx="502.5" cy="465" r="2.2" fill="#e8d890"/><circle cx="502.5" cy="483" r="3.6" fill="#5e5410"/>
<path d="M661.4,505.7 C659.4,500.7 652.4,495.7 652.4,489.7 A9,9 0 1 1 670.4,489.7 C670.4,495.7 663.4,500.7 661.4,505.7 Z" fill="#ffff00"/><circle cx="661.4" cy="488.7" r="2.2" fill="#e8d890"/><circle cx="661.4" cy="506.7" r="3.6" fill="#5e5410"/>
<path d="M769.7,430.8 C767.7,425.8 760.7,420.8 760.7,414.8 A9,9 0 1 1 778.7,414.8 C778.7,420.8 771.7,425.8 769.7,430.8 Z" fill="#ffff00"/><circle cx="769.7" cy="413.8" r="2.2" fill="#e8d890"/><circle cx="769.7" cy="431.8" r="3.6" fill="#5e5410"/>
<path d="M730.4,587.6 C728.4,582.6 721.4,577.6 721.4,571.6 A9,9 0 1 1 739.4,571.6 C739.4,577.6 732.4,582.6 730.4,587.6 Z" fill="#ffff00"/><circle cx="730.4" cy="570.6" r="2.2" fill="#e8d890"/><circle cx="730.4" cy="588.6" r="3.6" fill="#5e5410"/>
<path d="M758,649.9 C756,644.9 749,639.9 749,633.9 A9,9 0 1 1 767,633.9 C767,639.9 760,644.9 758,649.9 Z" fill="#ffff00"/><circle cx="758" cy="632.9" r="2.2" fill="#e8d890"/><circle cx="758" cy="650.9" r="3.6" fill="#5e5410"/>
<path d="M850.8,648.5 C848.8,643.5 841.8,638.5 841.8,632.5 A9,9 0 1 1 859.8,632.5 C859.8,638.5 852.8,643.5 850.8,648.5 Z" fill="#ffff00"/><circle cx="850.8" cy="631.5" r="2.2" fill="#e8d890"/><circle cx="850.8" cy="649.5" r="3.6" fill="#5e5410"/>
<path d="M870,506 C868,501 861,496 861,490 A9,9 0 1 1 879,490 C879,496 872,501 870,506 Z" fill="#ffff00"/><circle cx="870" cy="489" r="2.2" fill="#e8d890"/><circle cx="870" cy="507" r="3.6" fill="#5e5410"/>
<path d="M959.4,589 C957.4,584 950.4,579 950.4,573 A9,9 0 1 1 968.4,573 C968.4,579 961.4,584 959.4,589 Z" fill="#ffff00"/><circle cx="959.4" cy="572" r="2.2" fill="#e8d890"/><circle cx="959.4" cy="590" r="3.6" fill="#5e5410"/>
<path d="M760.5,508 C758.5,503 751.5,498 751.5,492 A9,9 0 1 1 769.5,492 C769.5,498 762.5,503 760.5,508 Z" fill="#ffff00"/><circle cx="760.5" cy="491" r="2.2" fill="#e8d890"/><circle cx="760.5" cy="509" r="3.6" fill="#5e5410"/>
<path d="M439,211 L448,211 L456,233 L431,233 Z" fill="url(#gRefl)" opacity="0.8" filter="url(#blur2)"/>
<path opacity="0.55" filter="url(#blur2)" d="M443.7,204 C439.8,196.2 430.7,191.0 430.7,183.85 A13,13 0 1 1 456.7,183.85 C456.7,191.0 447.59999999999997,196.2 443.7,204 Z" fill="#8cc8ff"/><circle cx="443.7" cy="182.85" r="3.2" fill="#8cc8ff"/>
<path d="M443.7,203 C440.46,196.52 432.9,192.2 432.9,186.26 A10.8,10.8 0 1 1 454.5,186.26 C454.5,192.2 446.94,196.52 443.7,203 Z" fill="#0a6cff"/><circle cx="443.7" cy="185.26" r="3.2" fill="#a8d4ff"/>
<circle cx="443.7" cy="207" r="6.5" fill="#111"/><circle cx="443.7" cy="207" r="2.8" fill="#c02020"/>
<path d="M639,615 L649,615 L656,636 L632,636 Z" fill="url(#gRefl)" opacity="0.7" filter="url(#blur2)"/>
<path opacity="0.5" filter="url(#blur2)" d="M644,608 C640.1,600.2 631,595.0 631,587.85 A13,13 0 1 1 657,587.85 C657,595.0 647.9,600.2 644,608 Z" fill="#8cc8ff"/><circle cx="644" cy="586.85" r="3.2" fill="#8cc8ff"/>
<path d="M644,607 C640.76,600.52 633.2,596.2 633.2,590.26 A10.8,10.8 0 1 1 654.8,590.26 C654.8,596.2 647.24,600.52 644,607 Z" fill="#0a6cff"/><circle cx="644" cy="589.26" r="3.2" fill="#a8d4ff"/>
<circle cx="644" cy="611" r="6" fill="#111"/><circle cx="644" cy="611" r="2.5" fill="#c02020"/>
<circle cx="937" cy="375" r="7" fill="#111"/>
<path d="M939,374.5 C934.86,366.22 925.2,350.34999999999997 925.2,342.76 A13.8,13.8 0 1 1 952.8,342.76 C952.8,350.34999999999997 943.14,366.22 939,374.5 Z" fill="#f55a0a"/><circle cx="939" cy="341.76" r="4.2" fill="#ffdca8"/>
<g font-family="Liberation Sans, sans-serif">
<text x="405.2" y="255.8" font-size="15.5" fill="#111" text-anchor="middle" dominant-baseline="central" font-weight="bold">新疆</text>
<text x="552.5" y="381.7" font-size="15.5" fill="#111" text-anchor="middle" dominant-baseline="central" font-weight="bold">青海</text>
<text x="486.4" y="458" font-size="15.5" fill="#111" text-anchor="middle" dominant-baseline="central" font-weight="bold">西藏</text>
<text x="620.2" y="310.6" font-size="15.5" fill="#111" text-anchor="middle" dominant-baseline="central" font-weight="bold">甘</text>
<text x="663.5" y="344" font-size="15.5" fill="#111" text-anchor="middle" dominant-baseline="central" font-weight="bold">肃</text>
<text x="733.3" y="355" font-size="15.5" fill="#111" text-anchor="middle" dominant-baseline="central" font-weight="bold">宁</text>
<text x="733.3" y="376" font-size="15.5" fill="#111" text-anchor="middle" dominant-baseline="central" font-weight="bold">夏</text>
<text x="784.3" y="392.7" font-size="15.5" fill="#111" text-anchor="middle" dominant-baseline="central" font-weight="bold">陕</text>
<text x="784.3" y="412.6" font-size="15.5" fill="#111" text-anchor="middle" dominant-baseline="central" font-weight="bold">西</text>
<text x="875.0" y="361" font-size="15.5" fill="#111" text-anchor="middle" dominant-baseline="central" font-weight="bold">北</text>
<text x="639.9" y="504.4" font-size="15.5" fill="#111" text-anchor="middle" dominant-baseline="central" font-weight="bold">四川</text>
<text x="748.1" y="511.3" font-size="15.5" fill="#111" text-anchor="middle" dominant-baseline="central" font-weight="bold">重</text>
<text x="832.9" y="502" font-size="15.5" fill="#111" text-anchor="middle" dominant-baseline="central" font-weight="bold">湖北</text>
<text x="828.9" y="571.7" font-size="15.5" fill="#111" text-anchor="middle" dominant-baseline="central" font-weight="bold">湖南</text>
<text x="894.5" y="552" font-size="15.5" fill="#111" text-anchor="middle" dominant-baseline="central" font-weight="bold">江</text>
<text x="895.2" y="572.3" font-size="15.5" fill="#111" text-anchor="middle" dominant-baseline="central" font-weight="bold">西</text>
<text x="933.9" y="588.5" font-size="15.5" fill="#111" text-anchor="middle" dominant-baseline="central" font-weight="bold">福</text>
<text x="933.9" y="606.4" font-size="15.5" fill="#111" text-anchor="middle" dominant-baseline="central" font-weight="bold">建</text>
<text x="783.5" y="627" font-size="15.5" fill="#111" text-anchor="middle" dominant-baseline="central" font-weight="bold">广西</text>
<text x="876.8" y="646" font-size="15.5" fill="#111" text-anchor="middle" dominant-baseline="central" font-weight="bold">广东</text>
<text x="748.5" y="567" font-size="15.5" fill="#111" text-anchor="middle" dominant-baseline="central" font-weight="bold">贵州</text>
<text x="612.1" y="605.6" font-size="15.5" fill="#111" text-anchor="middle" dominant-baseline="central" font-weight="bold">云南</text>
<text x="816.1" y="746.6" font-size="15.5" fill="#111" text-anchor="middle" dominant-baseline="central" font-weight="bold">海南</text>
<text x="1003.5" y="637.4" font-size="15.5" fill="#111" text-anchor="middle" dominant-baseline="central" font-weight="bold">台</text>
<text x="1003.5" y="658.7" font-size="15.5" fill="#111" text-anchor="middle" dominant-baseline="central" font-weight="bold">湾</text>
<text x="965.5" y="529" font-size="15.5" fill="#111" text-anchor="middle" dominant-baseline="central" font-weight="bold">浙</text>
<text x="965.5" y="549" font-size="15.5" fill="#111" text-anchor="middle" dominant-baseline="central" font-weight="bold">江</text>
<text x="1004.5" y="483.5" font-size="15.5" fill="#111" text-anchor="middle" dominant-baseline="central" font-weight="bold">上海</text>
<text x="962.5" y="384.4" font-size="15.5" fill="#111" text-anchor="middle" dominant-baseline="central" font-weight="bold">山东</text>
<text x="1052.7" y="153.2" font-size="15.5" fill="#2a2a2a" text-anchor="middle" dominant-baseline="central" >黑龙江</text>
<text x="827" y="361.5" font-size="15.5" fill="#4f7494" text-anchor="middle" dominant-baseline="central" >山</text>
<text x="827" y="376.2" font-size="15.5" fill="#4f7494" text-anchor="middle" dominant-baseline="central" >西</text>
<text x="845" y="440" font-size="15.5" fill="#4f7494" text-anchor="middle" dominant-baseline="central" >河南</text>
<text x="1035.3" y="214.8" font-size="15.5" fill="#4f7494" text-anchor="middle" dominant-baseline="central" >吉林</text>
<text x="985.5" y="264.5" font-size="15.5" fill="#4f7494" text-anchor="middle" dominant-baseline="central" >辽宁</text>
<text x="919.8" y="325.2" font-size="15.5" fill="#4f7494" text-anchor="middle" dominant-baseline="central" >天津</text>
<text x="954" y="446.5" font-size="15.5" fill="#4f7494" text-anchor="middle" dominant-baseline="central" >江</text>
<text x="955.5" y="466.3" font-size="15.5" fill="#4f7494" text-anchor="middle" dominant-baseline="central" >苏</text>
<text x="926" y="472" font-size="15.5" fill="#4f7494" text-anchor="middle" dominant-baseline="central" >安徽</text>
<text x="891" y="303.5" font-size="15.5" fill="#4a5a50" text-anchor="middle" dominant-baseline="central" >北京</text>
<text x="628" y="367.8" font-size="13" fill="#5f6a78" text-anchor="middle" dominant-baseline="central" >西宁</text>
<text x="693.5" y="413" font-size="13" fill="#5f6a78" text-anchor="middle" dominant-baseline="central" >兰州</text>
<text x="499.7" y="498.8" font-size="13" fill="#5f6a78" text-anchor="middle" dominant-baseline="central" >拉萨</text>
<text x="660.3" y="521.6" font-size="13" fill="#5f6a78" text-anchor="middle" dominant-baseline="central" >成都</text>
<text x="769.6" y="443" font-size="13" fill="#5f6a78" text-anchor="middle" dominant-baseline="central" >西安</text>
<text x="747.8" y="585.5" font-size="13" fill="#5f6a78" text-anchor="middle" dominant-baseline="central" >贵阳</text>
<text x="756" y="664" font-size="13" fill="#5f6a78" text-anchor="middle" dominant-baseline="central" >南宁</text>
<text x="852" y="657.5" font-size="13" fill="#5f6a78" text-anchor="middle" dominant-baseline="central" >广州</text>
<text x="871.3" y="517" font-size="13" fill="#5f6a78" text-anchor="middle" dominant-baseline="central" >武汉</text>
<text x="959.4" y="603" font-size="13" fill="#5f6a78" text-anchor="middle" dominant-baseline="central" >福州</text>
<text x="641" y="628" font-size="13" fill="#5f6a78" text-anchor="middle" dominant-baseline="central" >昆明</text>
<text x="484" y="201.5" font-size="13" fill="#5f6a78" text-anchor="middle" dominant-baseline="central" >乌鲁木齐</text>
<text x="958.9" y="367.4" font-size="13" fill="#5f6a78" text-anchor="middle" dominant-baseline="central" >潍坊</text>
<text x="1000.5" y="281.5" font-size="13" fill="#5f6a78" text-anchor="middle" dominant-baseline="central" >营口</text>
<text x="0" y="0" font-size="18" fill="#141414" text-anchor="middle" dominant-baseline="central" font-weight="bold" letter-spacing="2.5" transform="translate(825,267) rotate(-25)">内蒙古自治区</text>
<text x="138.5" y="158.5" font-size="21.5" fill="#18a0da" text-anchor="middle" dominant-baseline="central" >欧洲</text>
<text x="216" y="170" font-size="21.5" fill="#18a0da" text-anchor="middle" dominant-baseline="central" >中亚</text>
<text x="0" y="0" font-size="21" fill="#1aa2e0" text-anchor="middle" dominant-baseline="central" font-weight="bold" transform="translate(501.6,657) rotate(-20)">东南亚</text>
</g>
<path d="M172.3,205.3 L305.5,202.1 L305.3,192.3 L172.1,195.5 Z" fill="#1570c4"/><path d="M341.4,196.4 Q318.5,200.4 295.6,207.5 L305.5,202.1 L305.3,192.3 L295.2,187.5 Q318.3,193.4 341.4,196.4 Z" fill="#1570c4"/><path d="M136.2,201.2 Q159.1,197.2 182.0,190.1 L172.1,195.5 L172.3,205.3 L182.4,210.1 Q159.3,204.2 136.2,201.2 Z" fill="#1570c4"/><path d="M162.2,200.6 L170.2,202.1 L307.4,198.9 L315.4,197.0 L307.4,195.5 L170.2,198.7 Z" fill="#fff"/>
<path d="M466.2,699.6 L562.7,665.6 L559.4,656.4 L462.9,690.4 Z" fill="#1570c4"/><path d="M595.0,649.0 Q574.5,660.0 554.9,673.7 L562.7,665.6 L559.4,656.4 L548.3,654.9 Q572.1,653.4 595.0,649.0 Z" fill="#1570c4"/><path d="M430.6,707.0 Q451.1,696.0 470.7,682.3 L462.9,690.4 L466.2,699.6 L477.3,701.1 Q453.5,702.6 430.6,707.0 Z" fill="#1570c4"/><path d="M455.1,698.3 L463.2,697.3 L563.5,661.9 L570.5,657.7 L562.4,658.7 L462.1,694.1 Z" fill="#fff"/>
<g font-family="Liberation Sans, sans-serif">
<path d="M1095.8,419.9 A25.5,25.5 0 0 1 1140.2,394.8" fill="none" stroke="#f8d07a" stroke-width="10"/><circle cx="1118.1" cy="407.5" r="19.5" fill="#fff" stroke="#cdd0e8" stroke-width="0.9"/><text x="1118.1" y="408.5" font-size="25" font-weight="bold" fill="#f2a11a" text-anchor="middle" dominant-baseline="central">集</text>
<path d="M1095.8,502.6 A25.5,25.5 0 0 1 1140.2,477.4" fill="none" stroke="#f8d07a" stroke-width="10"/><circle cx="1118.1" cy="490.2" r="19.5" fill="#fff" stroke="#cdd0e8" stroke-width="0.9"/><text x="1118.1" y="491.2" font-size="25" font-weight="bold" fill="#f2a11a" text-anchor="middle" dominant-baseline="central">散</text>
<text x="1157" y="393" font-size="22" fill="#555" text-anchor="start" dominant-baseline="central" >优势国产果蔬</text>
<text x="1157" y="421.8" font-size="22" fill="#555" text-anchor="start" dominant-baseline="central" >东南亚各国进口果蔬</text>
<text x="1157" y="487" font-size="22" fill="#555" text-anchor="start" dominant-baseline="central" >山东优势畜禽产品</text>
<rect x="1095" y="579.3" width="33" height="25.6" fill="#ef7d30"/>
<text x="1139" y="588.4" font-size="18.8" fill="#555" text-anchor="start" dominant-baseline="central" >一级辐射片区</text>
<rect x="1095" y="625.6" width="33" height="26.7" fill="#ffb806"/>
<text x="1139" y="634.4" font-size="18.8" fill="#555" text-anchor="start" dominant-baseline="central" >二级辐射片区</text>
<rect x="1095" y="669" width="33" height="25.6" fill="#fdd466"/>
<text x="1139" y="680.3" font-size="18.8" fill="#555" text-anchor="start" dominant-baseline="central" >三级辐射片区</text>
<rect x="1095" y="711" width="33" height="25" fill="#fdefd3"/>
<text x="1139" y="726.3" font-size="18.8" fill="#555" text-anchor="start" dominant-baseline="central" >四级辐射片区</text>
<rect x="63" y="765" width="61" height="8" fill="#fff" stroke="#777" stroke-width="1"/>
<rect x="81" y="765" width="7" height="8" fill="#333"/><rect x="107" y="765" width="6" height="8" fill="#333"/>
<rect x="63" y="790.7" width="61" height="3.6" fill="#333"/>
<rect x="63" y="812.7" width="61" height="7" fill="#0a6fc2"/>
<rect x="63" y="834" width="61" height="3.5" fill="#1a73c9"/><rect x="63" y="841" width="61" height="3.5" fill="#1a73c9"/>
<text x="148" y="770" font-size="19" fill="#222" text-anchor="start" dominant-baseline="central" letter-spacing="0.3">公铁联运已开通：潍坊—昆明、潍坊—乌鲁木齐铁路冷链班列</text>
<text x="148" y="792.7" font-size="19" fill="#222" text-anchor="start" dominant-baseline="central" letter-spacing="0.3">公铁联运陆续开通：拉萨、西宁、兰州、成都、西安、南宁、贵阳、广州、福州、武汉等线路</text>
<text x="148" y="817" font-size="19" fill="#222" text-anchor="start" dominant-baseline="central" letter-spacing="0.3">公铁海联运：辽鲁大通道</text>
<text x="148" y="839.7" font-size="19" fill="#222" text-anchor="start" dominant-baseline="central" letter-spacing="0.3">国际线路</text>
</g>
</svg>
</body></html>
